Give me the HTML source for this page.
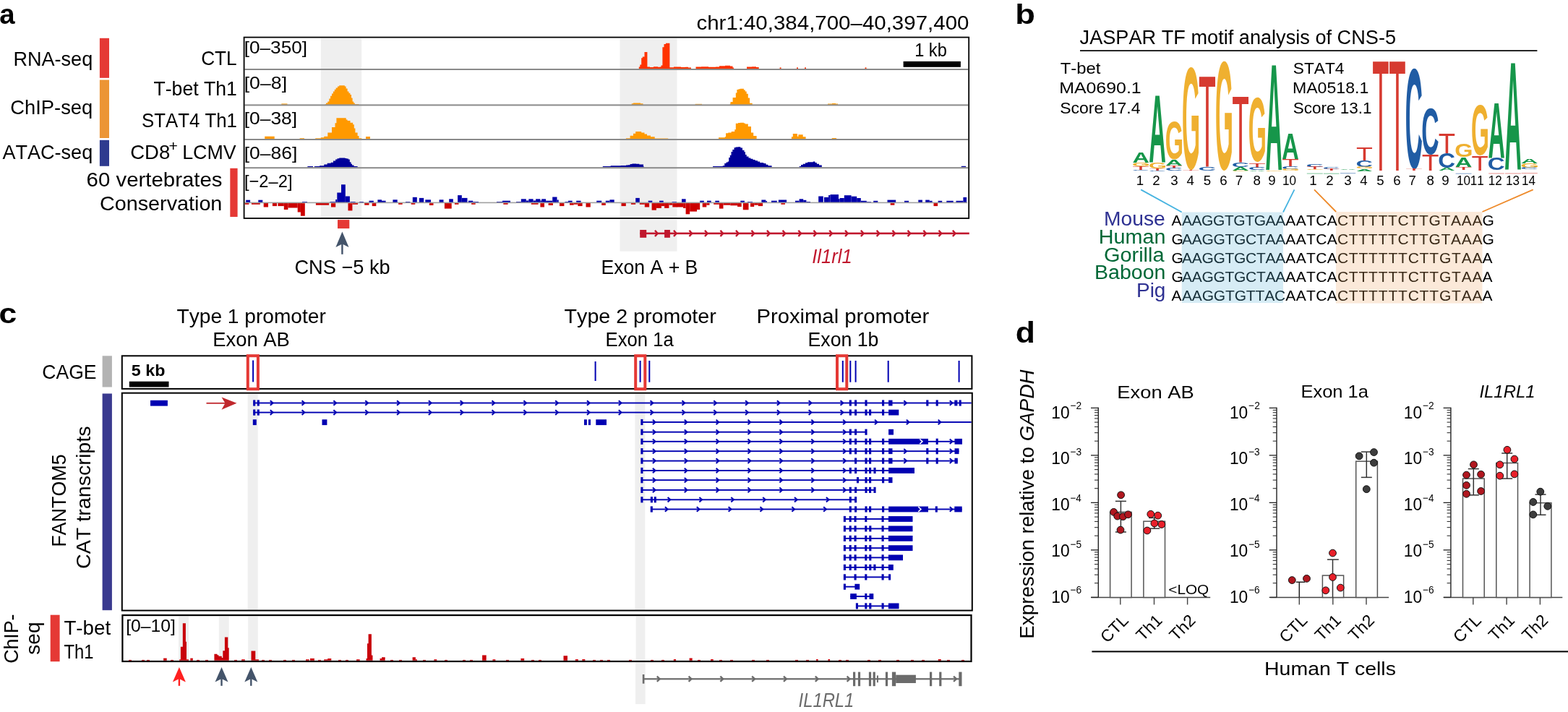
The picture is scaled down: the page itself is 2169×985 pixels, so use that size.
<!DOCTYPE html>
<html><head><meta charset="utf-8"><title>Figure</title>
<style>
html,body{margin:0;padding:0;background:#fff;}
body{width:2169px;height:985px;overflow:hidden;}
svg{display:block;}
svg{font-family:"Liberation Sans",sans-serif;}
svg text{font-kerning:none;}
</style></head><body>
<svg width="2169" height="985" viewBox="0 0 2169 985">
<rect width="2169" height="985" fill="#fff"/>
<rect x="443.90" y="53.50" width="56.30" height="247.50" fill="#efefef"/>
<rect x="857.50" y="53.50" width="79.00" height="247.50" fill="#efefef"/>
<rect x="857.50" y="304.00" width="79.00" height="43.70" fill="#efefef"/>
<polygon points="883.80,95.20 883.80,92.40 885.30,92.40 885.30,89.60 887.20,89.60 887.20,80.20 888.80,80.20 888.80,78.50 891.50,78.50 891.50,72.10 895.40,72.10 895.40,92.60 899.00,92.60 899.00,93.00 904.00,93.00 904.00,92.30 910.00,92.30 910.00,92.80 913.00,92.80 913.00,92.40 914.50,92.40 914.50,90.50 916.40,90.50 916.40,65.30 918.50,65.30 918.50,60.90 921.00,60.90 921.00,59.70 926.40,59.70 926.40,93.20 932.00,93.20 932.00,92.40 942.00,92.40 942.00,93.00 948.00,93.00 948.00,92.70 952.00,92.70 952.00,93.50 956.00,93.50 956.00,95.20" fill="#ff3300"/>
<polygon points="962.50,95.20 962.50,92.60 970.00,92.60 970.00,92.20 980.00,92.20 980.00,92.80 990.00,92.80 990.00,92.40 995.00,92.40 995.00,91.20 1003.00,91.20 1003.00,90.80 1010.00,90.80 1010.00,91.60 1013.50,91.60 1013.50,93.50 1015.00,93.50 1015.00,95.20" fill="#ff3300"/>
<polygon points="1033.00,95.20 1033.00,92.60 1040.00,92.60 1040.00,92.20 1046.00,92.20 1046.00,92.90 1049.70,92.90 1049.70,95.20" fill="#ff3300"/>
<rect x="1078.60" y="93.40" width="2.00" height="1.80" fill="#ff3300"/>
<rect x="1102.00" y="93.40" width="2.00" height="1.80" fill="#ff3300"/>
<rect x="1113.00" y="93.40" width="2.00" height="1.80" fill="#ff3300"/>
<rect x="1196.50" y="93.40" width="2.00" height="1.80" fill="#ff3300"/>
<polygon points="389.30,144.70 389.30,143.40 397.50,143.40 397.50,144.70" fill="#ff9900"/>
<polygon points="449.50,144.70 449.50,144.00 451.00,144.00 451.00,142.50 453.30,142.50 453.30,140.40 455.30,140.40 455.30,136.50 457.10,136.50 457.10,132.80 459.00,132.80 459.00,129.50 460.90,129.50 460.90,126.50 462.80,126.50 462.80,123.80 464.70,123.80 464.70,121.40 467.00,121.40 467.00,119.40 469.20,119.40 469.20,118.20 476.80,118.20 476.80,119.50 478.60,119.50 478.60,122.50 480.60,122.50 480.60,126.50 482.50,126.50 482.50,128.70 484.40,128.70 484.40,130.90 486.00,130.90 486.00,135.50 487.60,135.50 487.60,140.40 489.20,140.40 489.20,142.50 490.80,142.50 490.80,144.00 496.50,144.00 496.50,144.70" fill="#ff9900"/>
<polygon points="873.80,144.70 873.80,143.20 876.00,143.20 876.00,142.60 886.00,142.60 886.00,143.20 889.50,143.20 889.50,144.70" fill="#ff9900"/>
<polygon points="961.60,144.70 961.60,143.80 971.00,143.80 971.00,144.70" fill="#ff9900"/>
<polygon points="1009.80,144.70 1009.80,143.60 1010.50,143.60 1010.50,141.10 1013.60,141.10 1013.60,135.10 1017.80,135.10 1017.80,128.40 1019.40,128.40 1019.40,124.00 1021.50,124.00 1021.50,123.20 1023.80,123.20 1023.80,122.70 1028.90,122.70 1028.90,124.50 1030.80,124.50 1030.80,126.50 1032.70,126.50 1032.70,129.70 1034.80,129.70 1034.80,135.40 1037.10,135.40 1037.10,142.70 1040.70,142.70 1040.70,144.70" fill="#ff9900"/>
<polygon points="1145.00,144.70 1145.00,143.60 1151.00,143.60 1151.00,143.00 1156.00,143.00 1156.00,143.60 1159.00,143.60 1159.00,144.70" fill="#ff9900"/>
<polygon points="366.20,192.40 366.20,188.70 379.70,188.70 379.70,192.40" fill="#ff9900"/>
<polygon points="414.60,192.40 414.60,191.20 421.00,191.20 421.00,192.40" fill="#ff9900"/>
<polygon points="436.20,192.40 436.20,191.20 443.80,191.20 443.80,190.20 448.30,190.20 448.30,188.70 453.30,188.70 453.30,183.60 459.00,183.60 459.00,176.00 463.50,176.00 463.50,170.30 465.40,170.30 465.40,163.30 478.70,163.30 478.70,165.50 480.60,165.50 480.60,167.10 484.50,167.10 484.50,169.80 488.20,169.80 488.20,172.20 489.80,172.20 489.80,177.50 491.40,177.50 491.40,183.60 494.60,183.60 494.60,188.00 496.50,188.00 496.50,191.20 500.30,191.20 500.30,192.40" fill="#ff9900"/>
<polygon points="506.00,192.40 506.00,189.00 512.00,189.00 512.00,192.40" fill="#ff9900"/>
<polygon points="865.90,192.40 865.90,191.20 871.60,191.20 871.60,187.80 876.00,187.80 876.00,184.80 879.20,184.80 879.20,182.10 887.20,182.10 887.20,183.50 891.50,183.50 891.50,185.50 895.00,185.50 895.00,187.50 900.00,187.50 900.00,189.20 905.70,189.20 905.70,191.50 912.80,191.50 912.80,191.40 924.20,191.40 924.20,192.40" fill="#ff9900"/>
<polygon points="994.00,192.40 994.00,190.20 1002.80,190.20 1002.80,189.30 1004.10,189.30 1004.10,184.30 1007.30,184.30 1007.30,183.40 1011.70,183.40 1011.70,182.10 1016.20,182.10 1016.20,179.20 1017.80,179.20 1017.80,170.70 1021.00,170.70 1021.00,170.00 1023.80,170.00 1023.80,169.70 1028.90,169.70 1028.90,170.50 1030.80,170.50 1030.80,171.60 1034.80,171.60 1034.80,175.00 1039.00,175.00 1039.00,183.60 1042.20,183.60 1042.20,188.10 1046.60,188.10 1046.60,192.40" fill="#ff9900"/>
<polygon points="1094.90,192.40 1094.90,189.30 1096.80,189.30 1096.80,185.10 1102.90,185.10 1102.90,188.70 1104.40,188.70 1104.40,186.20 1110.70,186.20 1110.70,189.30 1114.60,189.30 1114.60,192.40" fill="#ff9900"/>
<polygon points="1150.70,192.40 1150.70,191.00 1157.00,191.00 1157.00,192.40" fill="#ff9900"/>
<polygon points="425.40,231.20 425.40,229.90 433.00,229.90 433.00,231.20 434.90,231.20 434.90,229.90 442.00,229.90 442.00,229.30 448.30,229.30 448.30,227.40 452.70,227.40 452.70,225.70 457.80,225.70 457.80,224.80 461.00,224.80 461.00,222.50 464.10,222.50 464.10,220.40 466.50,220.40 466.50,219.20 469.20,219.20 469.20,218.50 477.40,218.50 477.40,219.00 479.50,219.00 479.50,219.50 481.90,219.50 481.90,220.40 483.80,220.40 483.80,224.20 485.50,224.20 485.50,226.80 487.00,226.80 487.00,228.60 489.50,228.60 489.50,229.90 494.60,229.90 494.60,231.20" fill="#000099"/>
<polygon points="833.80,231.20 833.80,229.90 844.60,229.90 844.60,229.20 858.80,229.20 858.80,229.00 866.00,229.00 866.00,228.60 868.70,228.60 868.70,228.20 871.60,228.20 871.60,227.00 874.40,227.00 874.40,226.50 880.00,226.50 880.00,226.80 884.30,226.80 884.30,227.60 890.00,227.60 890.00,230.40 891.00,230.40 891.00,231.20" fill="#000099"/>
<polygon points="986.10,231.20 986.10,230.00 999.70,230.00 999.70,229.30 1002.20,229.30 1002.20,226.10 1004.50,226.10 1004.50,224.50 1006.70,224.50 1006.70,223.60 1008.20,223.60 1008.20,218.00 1009.80,218.00 1009.80,214.70 1011.50,214.70 1011.50,210.00 1013.30,210.00 1013.30,207.10 1015.50,207.10 1015.50,204.20 1017.50,204.20 1017.50,203.50 1020.60,203.50 1020.60,203.30 1024.40,203.30 1024.40,204.50 1027.00,204.50 1027.00,207.70 1029.50,207.70 1029.50,210.30 1031.00,210.30 1031.00,214.00 1032.70,214.00 1032.70,216.60 1035.50,216.60 1035.50,218.50 1038.40,218.50 1038.40,219.80 1041.50,219.80 1041.50,221.00 1044.70,221.00 1044.70,222.30 1048.00,222.30 1048.00,223.60 1051.10,223.60 1051.10,224.90 1056.20,224.90 1056.20,226.10 1059.50,226.10 1059.50,227.80 1062.50,227.80 1062.50,229.30 1067.60,229.30 1067.60,231.20" fill="#000099"/>
<polygon points="1105.70,231.20 1105.70,230.00 1108.00,230.00 1108.00,228.00 1110.70,228.00 1110.70,226.80 1114.00,226.80 1114.00,225.30 1117.10,225.30 1117.10,224.20 1124.70,224.20 1124.70,223.60 1127.50,223.60 1127.50,225.00 1129.80,225.00 1129.80,226.80 1133.00,226.80 1133.00,228.50 1136.80,228.50 1136.80,231.20" fill="#000099"/>
<polygon points="1329.80,231.20 1329.80,229.80 1336.10,229.80 1336.10,231.20" fill="#000099"/>
<rect x="340.20" y="276.70" width="5.90" height="3.50" fill="#0000aa"/>
<rect x="357.30" y="276.70" width="6.00" height="3.50" fill="#0000aa"/>
<rect x="418.00" y="279.00" width="7.00" height="1.20" fill="#0000aa"/>
<rect x="456.50" y="279.00" width="7.70" height="1.20" fill="#0000aa"/>
<rect x="464.20" y="276.00" width="2.10" height="4.20" fill="#0000aa"/>
<rect x="466.30" y="266.50" width="5.70" height="13.70" fill="#0000aa"/>
<rect x="472.00" y="255.30" width="5.80" height="24.90" fill="#0000aa"/>
<rect x="477.80" y="271.50" width="6.10" height="8.70" fill="#0000aa"/>
<rect x="484.60" y="279.00" width="7.00" height="1.20" fill="#0000aa"/>
<rect x="497.20" y="279.00" width="5.60" height="1.20" fill="#0000aa"/>
<rect x="510.50" y="277.70" width="6.30" height="2.50" fill="#0000aa"/>
<rect x="522.40" y="276.30" width="5.60" height="3.90" fill="#0000aa"/>
<rect x="528.00" y="277.70" width="5.60" height="2.50" fill="#0000aa"/>
<rect x="543.40" y="276.30" width="6.30" height="3.90" fill="#0000aa"/>
<rect x="561.00" y="279.00" width="6.30" height="1.20" fill="#0000aa"/>
<rect x="570.80" y="272.80" width="6.00" height="7.40" fill="#0000aa"/>
<rect x="579.90" y="273.90" width="6.30" height="6.30" fill="#0000aa"/>
<rect x="588.30" y="276.30" width="7.70" height="3.90" fill="#0000aa"/>
<rect x="607.60" y="276.30" width="5.90" height="3.90" fill="#0000aa"/>
<rect x="621.20" y="275.30" width="5.60" height="4.90" fill="#0000aa"/>
<rect x="633.10" y="270.10" width="5.70" height="10.10" fill="#0000aa"/>
<rect x="638.80" y="273.90" width="7.70" height="6.30" fill="#0000aa"/>
<rect x="647.90" y="277.70" width="6.30" height="2.50" fill="#0000aa"/>
<rect x="654.20" y="279.00" width="7.80" height="1.20" fill="#0000aa"/>
<rect x="687.00" y="279.00" width="8.00" height="1.20" fill="#0000aa"/>
<rect x="694.90" y="277.70" width="11.10" height="2.50" fill="#0000aa"/>
<rect x="714.00" y="279.00" width="6.80" height="1.20" fill="#0000aa"/>
<rect x="720.80" y="275.30" width="7.00" height="4.90" fill="#0000aa"/>
<rect x="727.80" y="277.50" width="3.50" height="2.70" fill="#0000aa"/>
<rect x="731.30" y="275.30" width="6.30" height="4.90" fill="#0000aa"/>
<rect x="737.60" y="277.50" width="3.50" height="2.70" fill="#0000aa"/>
<rect x="741.10" y="275.30" width="6.30" height="4.90" fill="#0000aa"/>
<rect x="747.40" y="277.50" width="1.80" height="2.70" fill="#0000aa"/>
<rect x="749.20" y="275.30" width="5.90" height="4.90" fill="#0000aa"/>
<rect x="755.10" y="277.70" width="9.10" height="2.50" fill="#0000aa"/>
<rect x="764.20" y="272.50" width="6.30" height="7.70" fill="#0000aa"/>
<rect x="770.50" y="276.50" width="2.20" height="3.70" fill="#0000aa"/>
<rect x="781.50" y="279.00" width="4.50" height="1.20" fill="#0000aa"/>
<rect x="786.00" y="277.70" width="5.60" height="2.50" fill="#0000aa"/>
<rect x="797.20" y="277.70" width="6.30" height="2.50" fill="#0000aa"/>
<rect x="825.20" y="277.70" width="7.00" height="2.50" fill="#0000aa"/>
<rect x="837.80" y="277.70" width="5.60" height="2.50" fill="#0000aa"/>
<rect x="843.40" y="276.30" width="6.30" height="3.90" fill="#0000aa"/>
<rect x="879.20" y="273.90" width="5.60" height="6.30" fill="#0000aa"/>
<rect x="896.70" y="277.70" width="5.60" height="2.50" fill="#0000aa"/>
<rect x="912.10" y="277.70" width="5.60" height="2.50" fill="#0000aa"/>
<rect x="929.60" y="279.00" width="6.30" height="1.20" fill="#0000aa"/>
<rect x="943.00" y="275.30" width="5.60" height="4.90" fill="#0000aa"/>
<rect x="968.20" y="277.70" width="5.60" height="2.50" fill="#0000aa"/>
<rect x="978.00" y="277.70" width="5.70" height="2.50" fill="#0000aa"/>
<rect x="989.30" y="277.70" width="5.60" height="2.50" fill="#0000aa"/>
<rect x="1024.30" y="277.70" width="5.60" height="2.50" fill="#0000aa"/>
<rect x="1034.00" y="279.00" width="7.00" height="1.20" fill="#0000aa"/>
<rect x="1053.40" y="276.50" width="5.90" height="3.70" fill="#0000aa"/>
<rect x="1059.30" y="278.00" width="1.70" height="2.20" fill="#0000aa"/>
<rect x="1067.00" y="277.70" width="7.80" height="2.50" fill="#0000aa"/>
<rect x="1076.90" y="276.50" width="11.20" height="3.70" fill="#0000aa"/>
<rect x="1100.00" y="277.70" width="5.60" height="2.50" fill="#0000aa"/>
<rect x="1105.60" y="275.30" width="5.60" height="4.90" fill="#0000aa"/>
<rect x="1111.20" y="276.80" width="4.20" height="3.40" fill="#0000aa"/>
<rect x="1115.40" y="279.00" width="5.60" height="1.20" fill="#0000aa"/>
<rect x="1132.20" y="271.50" width="6.60" height="8.70" fill="#0000aa"/>
<rect x="1140.00" y="272.90" width="6.10" height="7.30" fill="#0000aa"/>
<rect x="1146.10" y="270.00" width="2.40" height="10.20" fill="#0000aa"/>
<rect x="1148.50" y="269.10" width="11.50" height="11.10" fill="#0000aa"/>
<rect x="1160.00" y="275.20" width="1.60" height="5.00" fill="#0000aa"/>
<rect x="1161.60" y="274.00" width="6.20" height="6.20" fill="#0000aa"/>
<rect x="1167.80" y="270.20" width="9.80" height="10.00" fill="#0000aa"/>
<rect x="1177.60" y="271.70" width="7.60" height="8.50" fill="#0000aa"/>
<rect x="1185.20" y="274.00" width="5.60" height="6.20" fill="#0000aa"/>
<rect x="1190.80" y="277.80" width="8.00" height="2.40" fill="#0000aa"/>
<rect x="1198.80" y="279.20" width="6.20" height="1.00" fill="#0000aa"/>
<rect x="1208.20" y="277.80" width="6.10" height="2.40" fill="#0000aa"/>
<rect x="1227.50" y="276.60" width="11.70" height="3.60" fill="#0000aa"/>
<rect x="1251.00" y="277.80" width="6.10" height="2.40" fill="#0000aa"/>
<rect x="1270.30" y="276.60" width="5.60" height="3.60" fill="#0000aa"/>
<rect x="1280.20" y="276.60" width="5.60" height="3.60" fill="#0000aa"/>
<rect x="1285.80" y="277.80" width="3.80" height="2.40" fill="#0000aa"/>
<rect x="1297.60" y="277.80" width="5.60" height="2.40" fill="#0000aa"/>
<rect x="1309.30" y="277.80" width="9.40" height="2.40" fill="#0000aa"/>
<rect x="1322.50" y="277.80" width="9.90" height="2.40" fill="#0000aa"/>
<rect x="1332.40" y="272.90" width="4.70" height="7.30" fill="#0000aa"/>
<rect x="338.80" y="280.20" width="5.60" height="2.60" fill="#cc0000"/>
<rect x="347.90" y="280.20" width="11.90" height="2.60" fill="#cc0000"/>
<rect x="364.70" y="280.20" width="6.30" height="6.30" fill="#cc0000"/>
<rect x="376.90" y="280.20" width="6.10" height="4.90" fill="#cc0000"/>
<rect x="384.40" y="280.20" width="8.40" height="4.90" fill="#cc0000"/>
<rect x="392.80" y="280.20" width="5.60" height="9.80" fill="#cc0000"/>
<rect x="398.40" y="280.20" width="13.30" height="7.30" fill="#cc0000"/>
<rect x="411.70" y="280.20" width="4.20" height="13.30" fill="#cc0000"/>
<rect x="415.90" y="280.20" width="5.90" height="18.50" fill="#cc0000"/>
<rect x="436.90" y="280.20" width="18.20" height="3.50" fill="#cc0000"/>
<rect x="458.00" y="280.20" width="6.20" height="6.30" fill="#cc0000"/>
<rect x="481.50" y="280.20" width="5.90" height="11.20" fill="#cc0000"/>
<rect x="487.40" y="280.20" width="7.60" height="2.60" fill="#cc0000"/>
<rect x="504.20" y="280.20" width="6.30" height="3.50" fill="#cc0000"/>
<rect x="514.70" y="280.20" width="5.60" height="4.90" fill="#cc0000"/>
<rect x="551.10" y="280.20" width="5.60" height="2.60" fill="#cc0000"/>
<rect x="568.70" y="280.20" width="5.60" height="2.60" fill="#cc0000"/>
<rect x="593.90" y="280.20" width="5.60" height="3.80" fill="#cc0000"/>
<rect x="614.90" y="280.20" width="9.80" height="8.40" fill="#cc0000"/>
<rect x="628.90" y="280.20" width="5.60" height="2.60" fill="#cc0000"/>
<rect x="652.10" y="280.20" width="5.60" height="2.60" fill="#cc0000"/>
<rect x="696.30" y="280.20" width="6.30" height="2.60" fill="#cc0000"/>
<rect x="734.80" y="280.20" width="9.80" height="2.60" fill="#cc0000"/>
<rect x="747.40" y="280.20" width="5.60" height="6.30" fill="#cc0000"/>
<rect x="758.60" y="280.20" width="6.30" height="3.80" fill="#cc0000"/>
<rect x="774.00" y="280.20" width="6.40" height="4.90" fill="#cc0000"/>
<rect x="788.00" y="280.20" width="5.70" height="3.50" fill="#cc0000"/>
<rect x="793.70" y="280.20" width="5.60" height="2.60" fill="#cc0000"/>
<rect x="799.30" y="280.20" width="6.30" height="4.90" fill="#cc0000"/>
<rect x="810.50" y="280.20" width="6.30" height="6.30" fill="#cc0000"/>
<rect x="832.20" y="280.20" width="5.60" height="3.80" fill="#cc0000"/>
<rect x="859.50" y="280.20" width="6.30" height="4.90" fill="#cc0000"/>
<rect x="872.90" y="280.20" width="6.30" height="2.60" fill="#cc0000"/>
<rect x="884.80" y="280.20" width="7.00" height="2.60" fill="#cc0000"/>
<rect x="891.80" y="280.20" width="6.30" height="6.30" fill="#cc0000"/>
<rect x="901.60" y="280.20" width="6.30" height="10.50" fill="#cc0000"/>
<rect x="907.90" y="280.20" width="7.00" height="7.70" fill="#cc0000"/>
<rect x="914.90" y="280.20" width="4.20" height="4.90" fill="#cc0000"/>
<rect x="919.10" y="280.20" width="6.30" height="7.70" fill="#cc0000"/>
<rect x="925.40" y="280.20" width="4.90" height="3.50" fill="#cc0000"/>
<rect x="930.30" y="280.20" width="6.30" height="6.30" fill="#cc0000"/>
<rect x="936.00" y="280.20" width="9.10" height="6.30" fill="#cc0000"/>
<rect x="945.10" y="280.20" width="3.50" height="7.80" fill="#cc0000"/>
<rect x="948.60" y="280.20" width="5.60" height="16.10" fill="#cc0000"/>
<rect x="954.20" y="280.20" width="9.80" height="12.40" fill="#cc0000"/>
<rect x="964.00" y="280.20" width="4.20" height="9.80" fill="#cc0000"/>
<rect x="971.70" y="280.20" width="5.60" height="6.30" fill="#cc0000"/>
<rect x="977.30" y="280.20" width="4.20" height="3.50" fill="#cc0000"/>
<rect x="987.20" y="280.20" width="7.70" height="2.60" fill="#cc0000"/>
<rect x="994.90" y="280.20" width="5.60" height="8.40" fill="#cc0000"/>
<rect x="1000.50" y="280.20" width="9.80" height="3.50" fill="#cc0000"/>
<rect x="1010.30" y="280.20" width="9.80" height="4.10" fill="#cc0000"/>
<rect x="1020.10" y="280.20" width="5.60" height="5.80" fill="#cc0000"/>
<rect x="1027.80" y="280.20" width="7.70" height="10.10" fill="#cc0000"/>
<rect x="1038.00" y="280.20" width="5.20" height="5.80" fill="#cc0000"/>
<rect x="1043.20" y="280.20" width="5.60" height="3.50" fill="#cc0000"/>
<rect x="1048.80" y="280.20" width="6.30" height="4.90" fill="#cc0000"/>
<rect x="1080.40" y="280.20" width="5.60" height="2.60" fill="#cc0000"/>
<rect x="1231.70" y="280.20" width="5.70" height="3.50" fill="#cc0000"/>
<rect x="1291.50" y="280.20" width="5.60" height="4.90" fill="#cc0000"/>
<rect x="338.50" y="279.60" width="999.50" height="1.60" fill="#a0a0a0"/>
<rect x="338.50" y="95.00" width="1000.70" height="2.00" fill="#8a8a8a"/>
<rect x="338.50" y="144.40" width="1000.70" height="2.00" fill="#8a8a8a"/>
<rect x="338.50" y="192.00" width="1000.70" height="2.00" fill="#8a8a8a"/>
<rect x="338.50" y="231.20" width="1000.70" height="2.00" fill="#8a8a8a"/>
<rect x="337.6" y="51.6" width="1002.6" height="250.4" fill="none" stroke="#000" stroke-width="1.8"/>
<text x="337.73" y="73.80" font-size="24.5" textLength="87.33" lengthAdjust="spacingAndGlyphs">[0–350]</text>
<text x="337.70" y="123.40" font-size="24.5" textLength="59.41" lengthAdjust="spacingAndGlyphs">[0–8]</text>
<text x="337.72" y="171.70" font-size="24.5" textLength="73.36" lengthAdjust="spacingAndGlyphs">[0–38]</text>
<text x="337.71" y="219.90" font-size="24.5" textLength="73.68" lengthAdjust="spacingAndGlyphs">[0–86]</text>
<text x="337.91" y="259.20" font-size="24.5" textLength="66.58" lengthAdjust="spacingAndGlyphs">[−2–2]</text>
<rect x="1249.60" y="84.90" width="79.30" height="7.90" fill="#000"/>
<text x="1265.20" y="77.70" font-size="26" textLength="44.59" lengthAdjust="spacingAndGlyphs">1 kb</text>
<text x="963.45" y="40.50" font-size="27" textLength="377.00" lengthAdjust="spacingAndGlyphs">chr1:40,384,700–40,397,400</text>
<text x="-0.63" y="33.30" font-size="39" textLength="21.38" lengthAdjust="spacingAndGlyphs" font-weight="bold">a</text>
<text x="18.38" y="91.00" font-size="28" textLength="109.85" lengthAdjust="spacingAndGlyphs">RNA-seq</text>
<text x="14.21" y="158.40" font-size="28" textLength="114.04" lengthAdjust="spacingAndGlyphs">ChIP-seq</text>
<text x="3.45" y="220.00" font-size="28" textLength="124.78" lengthAdjust="spacingAndGlyphs">ATAC-seq</text>
<rect x="137.90" y="52.80" width="13.10" height="55.00" fill="#e53935"/>
<rect x="137.90" y="110.50" width="13.10" height="80.50" fill="#ec9535"/>
<rect x="137.90" y="193.80" width="13.10" height="36.00" fill="#2e3a8f"/>
<text x="278.17" y="90.00" font-size="28" textLength="49.50" lengthAdjust="spacingAndGlyphs">CTL</text>
<text x="212.50" y="131.80" font-size="28" textLength="115.40" lengthAdjust="spacingAndGlyphs">T-bet Th1</text>
<text x="196.03" y="176.30" font-size="28" textLength="131.83" lengthAdjust="spacingAndGlyphs">STAT4 Th1</text>
<text x="180.20" y="220.00" font-size="28" textLength="55.10" lengthAdjust="spacingAndGlyphs">CD8</text>
<text x="233.46" y="208.70" font-size="19.8" textLength="12.38" lengthAdjust="spacingAndGlyphs">+</text>
<text x="252.20" y="220.00" font-size="28" textLength="74.41" lengthAdjust="spacingAndGlyphs">LCMV</text>
<text x="119.61" y="258.20" font-size="28" textLength="187.85" lengthAdjust="spacingAndGlyphs">60 vertebrates</text>
<text x="137.94" y="291.40" font-size="28" textLength="169.43" lengthAdjust="spacingAndGlyphs">Conservation</text>
<rect x="318.30" y="232.80" width="10.30" height="67.20" fill="#e53935"/>
<rect x="467.00" y="304.10" width="16.30" height="12.00" fill="#e53935"/>
<polygon points="473.40,320.40 482.50,342.00 473.40,337.50 464.40,342.00" fill="#44546a"/>
<rect x="472.20" y="336.00" width="2.40" height="15.80" fill="#44546a"/>
<text x="407.42" y="378.80" font-size="28" textLength="132.32" lengthAdjust="spacingAndGlyphs">CNS −5 kb</text>
<text x="831.42" y="378.70" font-size="28" textLength="133.99" lengthAdjust="spacingAndGlyphs">Exon A + B</text>
<rect x="885.20" y="321.60" width="455.60" height="2.60" fill="#c0172d"/>
<rect x="885.20" y="318.00" width="9.00" height="10.80" fill="#c0172d"/>
<rect x="919.10" y="318.00" width="7.80" height="10.80" fill="#c0172d"/>
<polyline points="906.0,318.8 909.6,322.9 906.0,327.0" fill="none" stroke="#c0172d" stroke-width="2.4"/>
<polyline points="932.0,318.8 935.6,322.9 932.0,327.0" fill="none" stroke="#c0172d" stroke-width="2.4"/>
<polyline points="953.5,318.8 957.1,322.9 953.5,327.0" fill="none" stroke="#c0172d" stroke-width="2.4"/>
<polyline points="975.0,318.8 978.6,322.9 975.0,327.0" fill="none" stroke="#c0172d" stroke-width="2.4"/>
<polyline points="996.5,318.8 1000.1,322.9 996.5,327.0" fill="none" stroke="#c0172d" stroke-width="2.4"/>
<polyline points="1018.0,318.8 1021.6,322.9 1018.0,327.0" fill="none" stroke="#c0172d" stroke-width="2.4"/>
<polyline points="1039.5,318.8 1043.1,322.9 1039.5,327.0" fill="none" stroke="#c0172d" stroke-width="2.4"/>
<polyline points="1061.0,318.8 1064.6,322.9 1061.0,327.0" fill="none" stroke="#c0172d" stroke-width="2.4"/>
<polyline points="1082.6,318.8 1086.2,322.9 1082.6,327.0" fill="none" stroke="#c0172d" stroke-width="2.4"/>
<polyline points="1104.4,318.8 1108.0,322.9 1104.4,327.0" fill="none" stroke="#c0172d" stroke-width="2.4"/>
<polyline points="1125.5,318.8 1129.1,322.9 1125.5,327.0" fill="none" stroke="#c0172d" stroke-width="2.4"/>
<polyline points="1147.3,318.8 1150.9,322.9 1147.3,327.0" fill="none" stroke="#c0172d" stroke-width="2.4"/>
<polyline points="1169.1,318.8 1172.7,322.9 1169.1,327.0" fill="none" stroke="#c0172d" stroke-width="2.4"/>
<polyline points="1190.9,318.8 1194.5,322.9 1190.9,327.0" fill="none" stroke="#c0172d" stroke-width="2.4"/>
<polyline points="1212.7,318.8 1216.3,322.9 1212.7,327.0" fill="none" stroke="#c0172d" stroke-width="2.4"/>
<polyline points="1234.5,318.8 1238.1,322.9 1234.5,327.0" fill="none" stroke="#c0172d" stroke-width="2.4"/>
<polyline points="1255.6,318.8 1259.2,322.9 1255.6,327.0" fill="none" stroke="#c0172d" stroke-width="2.4"/>
<polyline points="1277.4,318.8 1281.0,322.9 1277.4,327.0" fill="none" stroke="#c0172d" stroke-width="2.4"/>
<polyline points="1298.6,318.8 1302.2,322.9 1298.6,327.0" fill="none" stroke="#c0172d" stroke-width="2.4"/>
<polyline points="1317.9,318.8 1321.5,322.9 1317.9,327.0" fill="none" stroke="#c0172d" stroke-width="2.4"/>
<text x="1123.19" y="363.70" font-size="28" textLength="55.47" lengthAdjust="spacingAndGlyphs" font-style="italic" fill="#c0172d">Il1rl1</text>
<text x="1404.22" y="33.00" font-size="38" textLength="27.64" lengthAdjust="spacingAndGlyphs" font-weight="bold">b</text>
<text x="1493.58" y="61.00" font-size="27" textLength="437.46" lengthAdjust="spacingAndGlyphs">JASPAR TF motif analysis of CNS-5</text>
<rect x="1494.00" y="69.30" width="632.40" height="1.70" fill="#000"/>
<text x="1466.66" y="101.60" font-size="22.5" textLength="55.71" lengthAdjust="spacingAndGlyphs">T-bet</text>
<text x="1465.16" y="129.30" font-size="22.5" textLength="113.56" lengthAdjust="spacingAndGlyphs">MA0690.1</text>
<text x="1466.15" y="157.00" font-size="22.5" textLength="111.32" lengthAdjust="spacingAndGlyphs">Score 17.4</text>
<text x="1788.77" y="101.60" font-size="22.5" textLength="70.70" lengthAdjust="spacingAndGlyphs">STAT4</text>
<text x="1787.90" y="129.30" font-size="22.5" textLength="105.43" lengthAdjust="spacingAndGlyphs">MA0518.1</text>
<text x="1788.78" y="157.00" font-size="22.5" textLength="108.82" lengthAdjust="spacingAndGlyphs">Score 13.1</text>
<text transform="matrix(0.3249,0,0,0.1933,1566.39,224.70)" font-size="100" font-weight="bold" fill="#16964a">A</text>
<text transform="matrix(0.3231,0,0,0.0749,1565.87,230.13)" font-size="100" font-weight="bold" fill="#efb030">G</text>
<text transform="matrix(0.3855,0,0,0.0669,1566.33,234.80)" font-size="100" fill="#d63a30">T</text>
<text transform="matrix(0.3334,0,0,0.0240,1565.83,236.48)" font-size="100" font-weight="bold" fill="#205ca4">C</text>
<text transform="matrix(0.3264,0,0,1.3445,1589.29,224.70)" font-size="100" font-weight="bold" fill="#16964a">A</text>
<text transform="matrix(0.3245,0,0,0.1059,1588.77,232.50)" font-size="100" font-weight="bold" fill="#efb030">G</text>
<text transform="matrix(0.3873,0,0,0.0422,1589.23,235.70)" font-size="100" fill="#d63a30">T</text>
<text transform="matrix(0.3350,0,0,0.0155,1588.73,236.78)" font-size="100" font-weight="bold" fill="#205ca4">C</text>
<text transform="matrix(0.3245,0,0,0.7472,1611.77,220.17)" font-size="100" font-weight="bold" fill="#efb030">G</text>
<text transform="matrix(0.3264,0,0,0.1032,1612.29,228.70)" font-size="100" font-weight="bold" fill="#16964a">A</text>
<text transform="matrix(0.3873,0,0,0.0596,1612.23,233.20)" font-size="100" fill="#d63a30">T</text>
<text transform="matrix(0.3350,0,0,0.0466,1611.73,236.45)" font-size="100" font-weight="bold" fill="#205ca4">C</text>
<text transform="matrix(0.3216,0,0,2.0014,1634.98,232.85)" font-size="100" font-weight="bold" fill="#efb030">G</text>
<text transform="matrix(0.3838,0,0,0.0189,1635.44,236.20)" font-size="100" fill="#d63a30">T</text>
<text transform="matrix(0.3926,0,0,1.7951,1658.12,230.20)" font-size="100" fill="#d63a30">T</text>
<text transform="matrix(0.3395,0,0,0.0763,1657.61,235.93)" font-size="100" font-weight="bold" fill="#205ca4">C</text>
<text transform="matrix(0.3186,0,0,2.1271,1680.99,234.12)" font-size="100" font-weight="bold" fill="#efb030">G</text>
<text transform="matrix(0.3873,0,0,1.3256,1704.13,224.70)" font-size="100" fill="#d63a30">T</text>
<text transform="matrix(0.3350,0,0,0.0932,1703.63,231.41)" font-size="100" font-weight="bold" fill="#205ca4">C</text>
<text transform="matrix(0.3264,0,0,0.0654,1704.19,236.00)" font-size="100" font-weight="bold" fill="#16964a">A</text>
<text transform="matrix(0.3245,0,0,0.0127,1703.67,236.89)" font-size="100" font-weight="bold" fill="#efb030">G</text>
<text transform="matrix(0.3231,0,0,1.2613,1726.67,223.47)" font-size="100" font-weight="bold" fill="#efb030">G</text>
<text transform="matrix(0.3855,0,0,0.0988,1727.13,231.70)" font-size="100" fill="#d63a30">T</text>
<text transform="matrix(0.3334,0,0,0.0466,1726.63,235.35)" font-size="100" font-weight="bold" fill="#205ca4">C</text>
<text transform="matrix(0.3249,0,0,0.0203,1727.19,236.80)" font-size="100" font-weight="bold" fill="#16964a">A</text>
<text transform="matrix(0.3249,0,0,2.1047,1750.39,235.10)" font-size="100" font-weight="bold" fill="#16964a">A</text>
<text transform="matrix(0.3231,0,0,0.0198,1749.87,236.58)" font-size="100" font-weight="bold" fill="#efb030">G</text>
<text transform="matrix(0.3249,0,0,0.5087,1773.29,220.20)" font-size="100" font-weight="bold" fill="#16964a">A</text>
<text transform="matrix(0.3855,0,0,0.1410,1773.23,230.20)" font-size="100" fill="#d63a30">T</text>
<text transform="matrix(0.3334,0,0,0.0508,1772.73,233.95)" font-size="100" font-weight="bold" fill="#205ca4">C</text>
<text transform="matrix(0.3231,0,0,0.0353,1772.77,236.47)" font-size="100" font-weight="bold" fill="#efb030">G</text>
<text transform="matrix(0.3365,0,0,0.0508,1806.42,230.65)" font-size="100" font-weight="bold" fill="#205ca4">C</text>
<text transform="matrix(0.3891,0,0,0.0465,1806.93,233.90)" font-size="100" fill="#d63a30">T</text>
<text transform="matrix(0.3260,0,0,0.0169,1806.46,235.08)" font-size="100" font-weight="bold" fill="#efb030">G</text>
<text transform="matrix(0.3288,0,0,0.0268,1829.65,234.17)" font-size="100" font-weight="bold" fill="#205ca4">C</text>
<text transform="matrix(0.3802,0,0,0.0262,1830.15,236.00)" font-size="100" fill="#d63a30">T</text>
<text transform="matrix(0.3160,0,0,0.0174,1853.21,235.10)" font-size="100" font-weight="bold" fill="#16964a">A</text>
<text transform="matrix(0.3749,0,0,0.2573,1875.96,222.40)" font-size="100" fill="#d63a30">T</text>
<text transform="matrix(0.3243,0,0,0.1215,1875.47,230.88)" font-size="100" font-weight="bold" fill="#205ca4">C</text>
<text transform="matrix(0.3142,0,0,0.0282,1875.51,233.37)" font-size="100" font-weight="bold" fill="#efb030">G</text>
<text transform="matrix(0.3160,0,0,0.0334,1876.01,236.50)" font-size="100" font-weight="bold" fill="#16964a">A</text>
<text transform="matrix(0.3820,0,0,2.1861,1898.34,236.00)" font-size="100" fill="#d63a30">T</text>
<text transform="matrix(0.3838,0,0,2.1861,1921.14,236.00)" font-size="100" fill="#d63a30">T</text>
<text transform="matrix(0.3334,0,0,1.9760,1943.63,231.97)" font-size="100" font-weight="bold" fill="#205ca4">C</text>
<text transform="matrix(0.3855,0,0,0.0291,1944.13,236.00)" font-size="100" fill="#d63a30">T</text>
<text transform="matrix(0.3365,0,0,0.9167,1966.32,212.60)" font-size="100" font-weight="bold" fill="#205ca4">C</text>
<text transform="matrix(0.3891,0,0,0.3183,1966.83,236.00)" font-size="100" fill="#d63a30">T</text>
<text transform="matrix(0.3820,0,0,0.3808,1989.74,212.20)" font-size="100" fill="#d63a30">T</text>
<text transform="matrix(0.3304,0,0,0.2881,1989.24,232.32)" font-size="100" font-weight="bold" fill="#205ca4">C</text>
<text transform="matrix(0.3220,0,0,0.0494,1989.80,236.00)" font-size="100" font-weight="bold" fill="#16964a">A</text>
<text transform="matrix(0.3245,0,0,0.2655,2012.27,217.44)" font-size="100" font-weight="bold" fill="#efb030">G</text>
<text transform="matrix(0.3264,0,0,0.1919,2012.79,231.40)" font-size="100" font-weight="bold" fill="#16964a">A</text>
<text transform="matrix(0.3873,0,0,0.0523,2012.73,235.00)" font-size="100" fill="#d63a30">T</text>
<text transform="matrix(0.3201,0,0,0.9845,2035.09,214.44)" font-size="100" font-weight="bold" fill="#efb030">G</text>
<text transform="matrix(0.3820,0,0,0.2951,2035.54,236.00)" font-size="100" fill="#d63a30">T</text>
<text transform="matrix(0.3220,0,0,1.0945,2058.40,218.20)" font-size="100" font-weight="bold" fill="#16964a">A</text>
<text transform="matrix(0.3304,0,0,0.2387,2057.84,235.17)" font-size="100" font-weight="bold" fill="#205ca4">C</text>
<text transform="matrix(0.3249,0,0,2.1279,2081.19,235.40)" font-size="100" font-weight="bold" fill="#16964a">A</text>
<text transform="matrix(0.3309,0,0,0.0988,2103.78,225.60)" font-size="100" font-weight="bold" fill="#16964a">A</text>
<text transform="matrix(0.3290,0,0,0.0876,2103.25,231.71)" font-size="100" font-weight="bold" fill="#efb030">G</text>
<text transform="matrix(0.3395,0,0,0.0381,2103.21,234.46)" font-size="100" font-weight="bold" fill="#205ca4">C</text>
<rect x="1807.80" y="239.50" width="22.00" height="1.20" fill="#16964a" opacity="0.45"/>
<rect x="1831.00" y="239.60" width="21.50" height="1.20" fill="#16964a" opacity="0.45"/>
<rect x="1854.00" y="239.00" width="21.20" height="1.20" fill="#205ca4" opacity="0.45"/>
<rect x="2013.60" y="239.60" width="21.90" height="1.20" fill="#205ca4" opacity="0.45"/>
<rect x="2059.20" y="239.40" width="21.60" height="1.20" fill="#d63a30" opacity="0.45"/>
<rect x="2082.00" y="239.40" width="21.80" height="1.20" fill="#d63a30" opacity="0.45"/>
<rect x="2104.60" y="239.00" width="22.20" height="1.20" fill="#d63a30" opacity="0.45"/>
<text x="1576.90" y="255.60" font-size="17.5" text-anchor="middle" textLength="10.4" lengthAdjust="spacingAndGlyphs">1</text>
<text x="1599.40" y="255.60" font-size="17.5" text-anchor="middle" textLength="10.4" lengthAdjust="spacingAndGlyphs">2</text>
<text x="1624.40" y="255.60" font-size="17.5" text-anchor="middle" textLength="10.4" lengthAdjust="spacingAndGlyphs">3</text>
<text x="1646.80" y="255.60" font-size="17.5" text-anchor="middle" textLength="10.4" lengthAdjust="spacingAndGlyphs">4</text>
<text x="1669.90" y="255.60" font-size="17.5" text-anchor="middle" textLength="10.4" lengthAdjust="spacingAndGlyphs">5</text>
<text x="1692.40" y="255.60" font-size="17.5" text-anchor="middle" textLength="10.4" lengthAdjust="spacingAndGlyphs">6</text>
<text x="1714.00" y="255.60" font-size="17.5" text-anchor="middle" textLength="10.4" lengthAdjust="spacingAndGlyphs">7</text>
<text x="1738.80" y="255.60" font-size="17.5" text-anchor="middle" textLength="10.4" lengthAdjust="spacingAndGlyphs">8</text>
<text x="1759.40" y="255.60" font-size="17.5" text-anchor="middle" textLength="10.4" lengthAdjust="spacingAndGlyphs">9</text>
<text x="1783.50" y="255.60" font-size="17.5" text-anchor="middle" textLength="19.0" lengthAdjust="spacingAndGlyphs">10</text>
<text x="1816.50" y="255.60" font-size="17.5" text-anchor="middle" textLength="10.4" lengthAdjust="spacingAndGlyphs">1</text>
<text x="1839.40" y="255.60" font-size="17.5" text-anchor="middle" textLength="10.4" lengthAdjust="spacingAndGlyphs">2</text>
<text x="1864.40" y="255.60" font-size="17.5" text-anchor="middle" textLength="10.4" lengthAdjust="spacingAndGlyphs">3</text>
<text x="1886.40" y="255.60" font-size="17.5" text-anchor="middle" textLength="10.4" lengthAdjust="spacingAndGlyphs">4</text>
<text x="1909.50" y="255.60" font-size="17.5" text-anchor="middle" textLength="10.4" lengthAdjust="spacingAndGlyphs">5</text>
<text x="1932.40" y="255.60" font-size="17.5" text-anchor="middle" textLength="10.4" lengthAdjust="spacingAndGlyphs">6</text>
<text x="1953.60" y="255.60" font-size="17.5" text-anchor="middle" textLength="10.4" lengthAdjust="spacingAndGlyphs">7</text>
<text x="1978.80" y="255.60" font-size="17.5" text-anchor="middle" textLength="10.4" lengthAdjust="spacingAndGlyphs">8</text>
<text x="1999.50" y="255.60" font-size="17.5" text-anchor="middle" textLength="10.4" lengthAdjust="spacingAndGlyphs">9</text>
<text x="2024.50" y="255.60" font-size="17.5" text-anchor="middle" textLength="19.0" lengthAdjust="spacingAndGlyphs">10</text>
<text x="2043.20" y="255.60" font-size="17.5" text-anchor="middle" textLength="19.0" lengthAdjust="spacingAndGlyphs">11</text>
<text x="2068.20" y="255.60" font-size="17.5" text-anchor="middle" textLength="19.0" lengthAdjust="spacingAndGlyphs">12</text>
<text x="2092.40" y="255.60" font-size="17.5" text-anchor="middle" textLength="19.0" lengthAdjust="spacingAndGlyphs">13</text>
<text x="2114.60" y="255.60" font-size="17.5" text-anchor="middle" textLength="19.0" lengthAdjust="spacingAndGlyphs">14</text>
<rect x="1634.70" y="293.50" width="140.30" height="125.60" fill="#d6ecf5"/>
<rect x="1848.00" y="293.00" width="202.50" height="126.60" fill="#fbe9d9"/>
<line x1="1578.20" y1="262.40" x2="1634.70" y2="293.50" stroke="#45b3e0" stroke-width="1.8"/>
<line x1="1790.50" y1="262.40" x2="1775.00" y2="293.50" stroke="#45b3e0" stroke-width="1.8"/>
<line x1="1818.00" y1="262.40" x2="1848.20" y2="293.00" stroke="#ee8a2a" stroke-width="1.8"/>
<line x1="2120.70" y1="262.40" x2="2050.50" y2="293.00" stroke="#ee8a2a" stroke-width="1.8"/>
<text x="1526.98" y="312.20" font-size="27" textLength="84.88" lengthAdjust="spacingAndGlyphs" fill="#2e3192">Mouse</text>
<text x="1620.60" y="312.20" font-size="21" textLength="14.33" lengthAdjust="spacing" fill="#000">A</text>
<text x="1634.93" y="312.20" font-size="21" textLength="143.30" lengthAdjust="spacing" fill="#17303a">AAGGTGTGAA</text>
<text x="1778.23" y="312.20" font-size="21" textLength="71.65" lengthAdjust="spacing" fill="#000">AATCA</text>
<text x="1849.88" y="312.20" font-size="21" textLength="200.62" lengthAdjust="spacing" fill="#3a2a18">CTTTTTCTTGTAAA</text>
<text x="2050.50" y="312.20" font-size="21" textLength="14.33" lengthAdjust="spacing" fill="#000">G</text>
<text x="1519.84" y="337.00" font-size="27" textLength="92.62" lengthAdjust="spacingAndGlyphs" fill="#006837">Human</text>
<text x="1620.60" y="338.00" font-size="21" textLength="14.33" lengthAdjust="spacing" fill="#000">G</text>
<text x="1634.93" y="338.00" font-size="21" textLength="143.30" lengthAdjust="spacing" fill="#17303a">AAGGTGCTAA</text>
<text x="1778.23" y="338.00" font-size="21" textLength="71.65" lengthAdjust="spacing" fill="#000">AATCA</text>
<text x="1849.88" y="338.00" font-size="21" textLength="200.62" lengthAdjust="spacing" fill="#3a2a18">CTTTTTCTTGTAAA</text>
<text x="2050.50" y="338.00" font-size="21" textLength="14.33" lengthAdjust="spacing" fill="#000">G</text>
<text x="1526.94" y="361.60" font-size="27" textLength="83.66" lengthAdjust="spacingAndGlyphs" fill="#006837">Gorilla</text>
<text x="1620.60" y="363.80" font-size="21" textLength="14.33" lengthAdjust="spacing" fill="#000">G</text>
<text x="1634.93" y="363.80" font-size="21" textLength="143.30" lengthAdjust="spacing" fill="#17303a">AAGGTGCTAA</text>
<text x="1778.23" y="363.80" font-size="21" textLength="71.65" lengthAdjust="spacing" fill="#000">AATCA</text>
<text x="1849.88" y="363.80" font-size="21" textLength="200.62" lengthAdjust="spacing" fill="#3a2a18">CTTTTTTCTTGTAA</text>
<text x="2050.50" y="363.80" font-size="21" textLength="14.33" lengthAdjust="spacing" fill="#000">A</text>
<text x="1513.96" y="386.40" font-size="27" textLength="98.50" lengthAdjust="spacingAndGlyphs" fill="#006837">Baboon</text>
<text x="1620.60" y="389.60" font-size="21" textLength="14.33" lengthAdjust="spacing" fill="#000">G</text>
<text x="1634.93" y="389.60" font-size="21" textLength="143.30" lengthAdjust="spacing" fill="#17303a">AAGGTGCTAA</text>
<text x="1778.23" y="389.60" font-size="21" textLength="71.65" lengthAdjust="spacing" fill="#000">AATCA</text>
<text x="1849.88" y="389.60" font-size="21" textLength="200.62" lengthAdjust="spacing" fill="#3a2a18">CTTTTTTCTTGTAA</text>
<text x="2050.50" y="389.60" font-size="21" textLength="14.33" lengthAdjust="spacing" fill="#000">A</text>
<text x="1572.01" y="410.80" font-size="27" textLength="40.39" lengthAdjust="spacingAndGlyphs" fill="#2e3192">Pig</text>
<text x="1620.60" y="415.60" font-size="21" textLength="14.33" lengthAdjust="spacing" fill="#000">A</text>
<text x="1634.93" y="415.60" font-size="21" textLength="143.30" lengthAdjust="spacing" fill="#17303a">AAGGTGTTAC</text>
<text x="1778.23" y="415.60" font-size="21" textLength="71.65" lengthAdjust="spacing" fill="#000">AATCA</text>
<text x="1849.88" y="415.60" font-size="21" textLength="200.62" lengthAdjust="spacing" fill="#3a2a18">CTTTTTTCTTGTAA</text>
<text x="2050.50" y="415.60" font-size="21" textLength="14.33" lengthAdjust="spacing" fill="#000">A</text>
<text x="-1.44" y="447.20" font-size="39" textLength="24.74" lengthAdjust="spacingAndGlyphs" font-weight="bold">c</text>
<text x="244.57" y="447.20" font-size="28" textLength="206.20" lengthAdjust="spacingAndGlyphs">Type 1 promoter</text>
<text x="294.25" y="479.30" font-size="28" textLength="106.59" lengthAdjust="spacingAndGlyphs">Exon AB</text>
<text x="780.56" y="446.90" font-size="28" textLength="210.22" lengthAdjust="spacingAndGlyphs">Type 2 promoter</text>
<text x="837.59" y="479.20" font-size="28" textLength="94.21" lengthAdjust="spacingAndGlyphs">Exon 1a</text>
<text x="1046.40" y="446.90" font-size="28" textLength="238.88" lengthAdjust="spacingAndGlyphs">Proximal promoter</text>
<text x="1117.51" y="479.20" font-size="28" textLength="97.91" lengthAdjust="spacingAndGlyphs">Exon 1b</text>
<text x="58.35" y="524.00" font-size="28" textLength="75.08" lengthAdjust="spacingAndGlyphs">CAGE</text>
<rect x="141.60" y="492.30" width="13.30" height="43.20" fill="#b3b3b3"/>
<rect x="141.60" y="544.50" width="13.30" height="299.70" fill="#3a3a8f"/>
<g transform="translate(91.20,754.60) rotate(-90)"><text x="-2.21" y="0.00" font-size="28" textLength="128.43" lengthAdjust="spacingAndGlyphs">FANTOM5</text></g>
<g transform="translate(124.60,785.60) rotate(-90)"><text x="-1.46" y="0.00" font-size="28" textLength="197.59" lengthAdjust="spacingAndGlyphs">CAT transcripts</text></g>
<rect x="342.60" y="545.00" width="14.10" height="298.50" fill="#efefef"/>
<rect x="878.40" y="545.00" width="13.90" height="298.50" fill="#efefef"/>
<rect x="247.00" y="852.80" width="14.00" height="60.80" fill="#efefef"/>
<rect x="302.80" y="852.80" width="13.90" height="60.80" fill="#efefef"/>
<rect x="343.20" y="852.80" width="13.60" height="60.80" fill="#efefef"/>
<rect x="879.60" y="852.80" width="12.80" height="60.80" fill="#efefef"/>
<rect x="879.00" y="916.50" width="13.70" height="57.60" fill="#efefef"/>
<rect x="168.8" y="492.3" width="1175.6" height="45.6" fill="none" stroke="#000" stroke-width="2"/>
<text x="181.88" y="520.00" font-size="22" textLength="46.57" lengthAdjust="spacingAndGlyphs" font-weight="bold">5 kb</text>
<rect x="178.80" y="527.70" width="54.70" height="7.80" fill="#000"/>
<rect x="349.10" y="498.50" width="2.00" height="29.90" fill="#0000b2"/>
<rect x="822.60" y="500.00" width="2.00" height="27.00" fill="#0000b2"/>
<rect x="884.60" y="499.00" width="2.00" height="29.70" fill="#0000b2"/>
<rect x="897.30" y="499.00" width="2.00" height="29.70" fill="#0000b2"/>
<rect x="1164.80" y="499.00" width="2.00" height="29.70" fill="#0000b2"/>
<rect x="1175.30" y="499.00" width="2.00" height="29.70" fill="#0000b2"/>
<rect x="1182.60" y="499.00" width="2.00" height="29.70" fill="#0000b2"/>
<rect x="1227.70" y="499.00" width="2.00" height="29.70" fill="#0000b2"/>
<rect x="1325.60" y="499.00" width="2.00" height="29.70" fill="#0000b2"/>
<rect x="342.8" y="492.2" width="14.1" height="46.0" fill="none" stroke="#e53935" stroke-width="4"/>
<rect x="879.2" y="492.2" width="13.1" height="46.0" fill="none" stroke="#e53935" stroke-width="4"/>
<rect x="1158.0" y="492.2" width="13.3" height="46.0" fill="none" stroke="#e53935" stroke-width="4"/>
<rect x="168.8" y="543.7" width="1176.0" height="300.9" fill="none" stroke="#000" stroke-width="2"/>
<rect x="285.50" y="556.90" width="26.50" height="1.80" fill="#c0282d"/>
<polygon points="306.50,549.40 327.50,557.80 306.50,566.70 311.50,557.80" fill="#c0282d"/>
<rect x="208.00" y="553.80" width="23.90" height="7.80" fill="#0000b2"/>
<rect x="350.60" y="556.55" width="993.10" height="1.90" fill="#0000b2"/>
<rect x="350.15" y="553.40" width="3.10" height="8.20" fill="#0000b2"/>
<rect x="355.75" y="553.40" width="3.10" height="8.20" fill="#0000b2"/>
<rect x="1174.75" y="553.40" width="3.10" height="8.20" fill="#0000b2"/>
<rect x="1182.05" y="553.40" width="3.10" height="8.20" fill="#0000b2"/>
<rect x="1196.45" y="553.40" width="3.10" height="8.20" fill="#0000b2"/>
<rect x="1220.05" y="553.40" width="3.10" height="8.20" fill="#0000b2"/>
<rect x="1281.25" y="553.40" width="3.10" height="8.20" fill="#0000b2"/>
<rect x="1294.65" y="553.40" width="3.10" height="8.20" fill="#0000b2"/>
<rect x="1326.65" y="553.40" width="3.10" height="8.20" fill="#0000b2"/>
<rect x="1229.10" y="553.60" width="5.40" height="7.80" fill="#0000b2"/>
<rect x="1320.30" y="553.60" width="4.10" height="7.80" fill="#0000b2"/>
<polyline points="373.8,554.2 377.4,557.5 373.8,560.8" fill="none" stroke="#0000b2" stroke-width="2.1" stroke-linejoin="miter"/>
<polyline points="417.6,554.2 421.2,557.5 417.6,560.8" fill="none" stroke="#0000b2" stroke-width="2.1" stroke-linejoin="miter"/>
<polyline points="461.4,554.2 465.0,557.5 461.4,560.8" fill="none" stroke="#0000b2" stroke-width="2.1" stroke-linejoin="miter"/>
<polyline points="505.3,554.2 508.9,557.5 505.3,560.8" fill="none" stroke="#0000b2" stroke-width="2.1" stroke-linejoin="miter"/>
<polyline points="549.1,554.2 552.7,557.5 549.1,560.8" fill="none" stroke="#0000b2" stroke-width="2.1" stroke-linejoin="miter"/>
<polyline points="592.9,554.2 596.5,557.5 592.9,560.8" fill="none" stroke="#0000b2" stroke-width="2.1" stroke-linejoin="miter"/>
<polyline points="636.7,554.2 640.3,557.5 636.7,560.8" fill="none" stroke="#0000b2" stroke-width="2.1" stroke-linejoin="miter"/>
<polyline points="680.5,554.2 684.1,557.5 680.5,560.8" fill="none" stroke="#0000b2" stroke-width="2.1" stroke-linejoin="miter"/>
<polyline points="724.4,554.2 728.0,557.5 724.4,560.8" fill="none" stroke="#0000b2" stroke-width="2.1" stroke-linejoin="miter"/>
<polyline points="768.2,554.2 771.8,557.5 768.2,560.8" fill="none" stroke="#0000b2" stroke-width="2.1" stroke-linejoin="miter"/>
<polyline points="812.0,554.2 815.6,557.5 812.0,560.8" fill="none" stroke="#0000b2" stroke-width="2.1" stroke-linejoin="miter"/>
<polyline points="855.8,554.2 859.4,557.5 855.8,560.8" fill="none" stroke="#0000b2" stroke-width="2.1" stroke-linejoin="miter"/>
<polyline points="899.6,554.2 903.2,557.5 899.6,560.8" fill="none" stroke="#0000b2" stroke-width="2.1" stroke-linejoin="miter"/>
<polyline points="943.5,554.2 947.1,557.5 943.5,560.8" fill="none" stroke="#0000b2" stroke-width="2.1" stroke-linejoin="miter"/>
<polyline points="987.3,554.2 990.9,557.5 987.3,560.8" fill="none" stroke="#0000b2" stroke-width="2.1" stroke-linejoin="miter"/>
<polyline points="1031.1,554.2 1034.7,557.5 1031.1,560.8" fill="none" stroke="#0000b2" stroke-width="2.1" stroke-linejoin="miter"/>
<polyline points="1074.9,554.2 1078.5,557.5 1074.9,560.8" fill="none" stroke="#0000b2" stroke-width="2.1" stroke-linejoin="miter"/>
<polyline points="1118.7,554.2 1122.3,557.5 1118.7,560.8" fill="none" stroke="#0000b2" stroke-width="2.1" stroke-linejoin="miter"/>
<polyline points="1162.6,554.2 1166.2,557.5 1162.6,560.8" fill="none" stroke="#0000b2" stroke-width="2.1" stroke-linejoin="miter"/>
<polyline points="1250.3,554.2 1253.9,557.5 1250.3,560.8" fill="none" stroke="#0000b2" stroke-width="2.1" stroke-linejoin="miter"/>
<polyline points="1313.8,554.2 1317.4,557.5 1313.8,560.8" fill="none" stroke="#0000b2" stroke-width="2.1" stroke-linejoin="miter"/>
<rect x="350.60" y="569.65" width="871.00" height="1.90" fill="#0000b2"/>
<rect x="350.15" y="566.50" width="3.10" height="8.20" fill="#0000b2"/>
<rect x="355.75" y="566.50" width="3.10" height="8.20" fill="#0000b2"/>
<rect x="1174.75" y="566.50" width="3.10" height="8.20" fill="#0000b2"/>
<rect x="1182.05" y="566.50" width="3.10" height="8.20" fill="#0000b2"/>
<rect x="1196.45" y="566.50" width="3.10" height="8.20" fill="#0000b2"/>
<rect x="1202.05" y="566.50" width="3.10" height="8.20" fill="#0000b2"/>
<rect x="1220.05" y="566.50" width="3.10" height="8.20" fill="#0000b2"/>
<rect x="1229.10" y="566.70" width="14.20" height="7.80" fill="#0000b2"/>
<polyline points="373.8,567.3 377.4,570.6 373.8,573.9" fill="none" stroke="#0000b2" stroke-width="2.1" stroke-linejoin="miter"/>
<polyline points="417.6,567.3 421.2,570.6 417.6,573.9" fill="none" stroke="#0000b2" stroke-width="2.1" stroke-linejoin="miter"/>
<polyline points="461.4,567.3 465.0,570.6 461.4,573.9" fill="none" stroke="#0000b2" stroke-width="2.1" stroke-linejoin="miter"/>
<polyline points="505.3,567.3 508.9,570.6 505.3,573.9" fill="none" stroke="#0000b2" stroke-width="2.1" stroke-linejoin="miter"/>
<polyline points="549.1,567.3 552.7,570.6 549.1,573.9" fill="none" stroke="#0000b2" stroke-width="2.1" stroke-linejoin="miter"/>
<polyline points="592.9,567.3 596.5,570.6 592.9,573.9" fill="none" stroke="#0000b2" stroke-width="2.1" stroke-linejoin="miter"/>
<polyline points="636.7,567.3 640.3,570.6 636.7,573.9" fill="none" stroke="#0000b2" stroke-width="2.1" stroke-linejoin="miter"/>
<polyline points="680.5,567.3 684.1,570.6 680.5,573.9" fill="none" stroke="#0000b2" stroke-width="2.1" stroke-linejoin="miter"/>
<polyline points="724.4,567.3 728.0,570.6 724.4,573.9" fill="none" stroke="#0000b2" stroke-width="2.1" stroke-linejoin="miter"/>
<polyline points="768.2,567.3 771.8,570.6 768.2,573.9" fill="none" stroke="#0000b2" stroke-width="2.1" stroke-linejoin="miter"/>
<polyline points="812.0,567.3 815.6,570.6 812.0,573.9" fill="none" stroke="#0000b2" stroke-width="2.1" stroke-linejoin="miter"/>
<polyline points="855.8,567.3 859.4,570.6 855.8,573.9" fill="none" stroke="#0000b2" stroke-width="2.1" stroke-linejoin="miter"/>
<polyline points="899.6,567.3 903.2,570.6 899.6,573.9" fill="none" stroke="#0000b2" stroke-width="2.1" stroke-linejoin="miter"/>
<polyline points="943.5,567.3 947.1,570.6 943.5,573.9" fill="none" stroke="#0000b2" stroke-width="2.1" stroke-linejoin="miter"/>
<polyline points="987.3,567.3 990.9,570.6 987.3,573.9" fill="none" stroke="#0000b2" stroke-width="2.1" stroke-linejoin="miter"/>
<polyline points="1031.1,567.3 1034.7,570.6 1031.1,573.9" fill="none" stroke="#0000b2" stroke-width="2.1" stroke-linejoin="miter"/>
<polyline points="1074.9,567.3 1078.5,570.6 1074.9,573.9" fill="none" stroke="#0000b2" stroke-width="2.1" stroke-linejoin="miter"/>
<polyline points="1118.7,567.3 1122.3,570.6 1118.7,573.9" fill="none" stroke="#0000b2" stroke-width="2.1" stroke-linejoin="miter"/>
<polyline points="1162.6,567.3 1166.2,570.6 1162.6,573.9" fill="none" stroke="#0000b2" stroke-width="2.1" stroke-linejoin="miter"/>
<rect x="1221.60" y="569.80" width="7.50" height="1.60" fill="#0000b2"/>
<rect x="886.80" y="583.05" width="456.90" height="1.90" fill="#0000b2"/>
<rect x="886.35" y="579.90" width="3.10" height="8.20" fill="#0000b2"/>
<polyline points="902.9,580.7 906.5,584.0 902.9,587.3" fill="none" stroke="#0000b2" stroke-width="2.1" stroke-linejoin="miter"/>
<polyline points="946.8,580.7 950.4,584.0 946.8,587.3" fill="none" stroke="#0000b2" stroke-width="2.1" stroke-linejoin="miter"/>
<polyline points="990.6,580.7 994.2,584.0 990.6,587.3" fill="none" stroke="#0000b2" stroke-width="2.1" stroke-linejoin="miter"/>
<polyline points="1034.5,580.7 1038.1,584.0 1034.5,587.3" fill="none" stroke="#0000b2" stroke-width="2.1" stroke-linejoin="miter"/>
<polyline points="1078.4,580.7 1082.0,584.0 1078.4,587.3" fill="none" stroke="#0000b2" stroke-width="2.1" stroke-linejoin="miter"/>
<polyline points="1122.3,580.7 1125.9,584.0 1122.3,587.3" fill="none" stroke="#0000b2" stroke-width="2.1" stroke-linejoin="miter"/>
<polyline points="1166.1,580.7 1169.7,584.0 1166.1,587.3" fill="none" stroke="#0000b2" stroke-width="2.1" stroke-linejoin="miter"/>
<polyline points="1210.0,580.7 1213.6,584.0 1210.0,587.3" fill="none" stroke="#0000b2" stroke-width="2.1" stroke-linejoin="miter"/>
<polyline points="1253.9,580.7 1257.5,584.0 1253.9,587.3" fill="none" stroke="#0000b2" stroke-width="2.1" stroke-linejoin="miter"/>
<polyline points="1297.7,580.7 1301.3,584.0 1297.7,587.3" fill="none" stroke="#0000b2" stroke-width="2.1" stroke-linejoin="miter"/>
<rect x="349.80" y="580.30" width="5.00" height="7.80" fill="#0000b2"/>
<rect x="445.50" y="580.30" width="6.90" height="7.80" fill="#0000b2"/>
<rect x="808.00" y="580.30" width="3.90" height="7.80" fill="#0000b2"/>
<rect x="813.90" y="580.30" width="3.10" height="7.80" fill="#0000b2"/>
<rect x="824.30" y="580.30" width="14.70" height="7.80" fill="#0000b2"/>
<rect x="886.80" y="596.75" width="311.20" height="1.90" fill="#0000b2"/>
<rect x="886.35" y="593.60" width="3.10" height="8.20" fill="#0000b2"/>
<rect x="1174.75" y="593.60" width="3.10" height="8.20" fill="#0000b2"/>
<rect x="1182.05" y="593.60" width="3.10" height="8.20" fill="#0000b2"/>
<rect x="1196.45" y="593.60" width="3.10" height="8.20" fill="#0000b2"/>
<polyline points="902.9,594.4 906.5,597.7 902.9,601.0" fill="none" stroke="#0000b2" stroke-width="2.1" stroke-linejoin="miter"/>
<polyline points="946.8,594.4 950.4,597.7 946.8,601.0" fill="none" stroke="#0000b2" stroke-width="2.1" stroke-linejoin="miter"/>
<polyline points="990.6,594.4 994.2,597.7 990.6,601.0" fill="none" stroke="#0000b2" stroke-width="2.1" stroke-linejoin="miter"/>
<polyline points="1034.5,594.4 1038.1,597.7 1034.5,601.0" fill="none" stroke="#0000b2" stroke-width="2.1" stroke-linejoin="miter"/>
<polyline points="1078.4,594.4 1082.0,597.7 1078.4,601.0" fill="none" stroke="#0000b2" stroke-width="2.1" stroke-linejoin="miter"/>
<polyline points="1122.3,594.4 1125.9,597.7 1122.3,601.0" fill="none" stroke="#0000b2" stroke-width="2.1" stroke-linejoin="miter"/>
<polyline points="1166.1,594.4 1169.7,597.7 1166.1,601.0" fill="none" stroke="#0000b2" stroke-width="2.1" stroke-linejoin="miter"/>
<rect x="1229.10" y="593.80" width="6.90" height="7.80" fill="#0000b2"/>
<rect x="886.80" y="609.85" width="444.20" height="1.90" fill="#0000b2"/>
<rect x="886.35" y="606.70" width="3.10" height="8.20" fill="#0000b2"/>
<rect x="1174.75" y="606.70" width="3.10" height="8.20" fill="#0000b2"/>
<rect x="1182.05" y="606.70" width="3.10" height="8.20" fill="#0000b2"/>
<rect x="1196.45" y="606.70" width="3.10" height="8.20" fill="#0000b2"/>
<rect x="1202.05" y="606.70" width="3.10" height="8.20" fill="#0000b2"/>
<rect x="1220.05" y="606.70" width="3.10" height="8.20" fill="#0000b2"/>
<rect x="1294.65" y="606.70" width="3.10" height="8.20" fill="#0000b2"/>
<rect x="1229.10" y="606.90" width="54.90" height="7.80" fill="#0000b2"/>
<rect x="1320.50" y="606.90" width="10.50" height="7.80" fill="#0000b2"/>
<polyline points="902.9,607.5 906.5,610.8 902.9,614.1" fill="none" stroke="#0000b2" stroke-width="2.1" stroke-linejoin="miter"/>
<polyline points="946.8,607.5 950.4,610.8 946.8,614.1" fill="none" stroke="#0000b2" stroke-width="2.1" stroke-linejoin="miter"/>
<polyline points="990.6,607.5 994.2,610.8 990.6,614.1" fill="none" stroke="#0000b2" stroke-width="2.1" stroke-linejoin="miter"/>
<polyline points="1034.5,607.5 1038.1,610.8 1034.5,614.1" fill="none" stroke="#0000b2" stroke-width="2.1" stroke-linejoin="miter"/>
<polyline points="1078.4,607.5 1082.0,610.8 1078.4,614.1" fill="none" stroke="#0000b2" stroke-width="2.1" stroke-linejoin="miter"/>
<polyline points="1122.3,607.5 1125.9,610.8 1122.3,614.1" fill="none" stroke="#0000b2" stroke-width="2.1" stroke-linejoin="miter"/>
<polyline points="1166.1,607.5 1169.7,610.8 1166.1,614.1" fill="none" stroke="#0000b2" stroke-width="2.1" stroke-linejoin="miter"/>
<polyline points="1313.8,607.5 1317.4,610.8 1313.8,614.1" fill="none" stroke="#0000b2" stroke-width="2.1" stroke-linejoin="miter"/>
<polyline points="1272.3,607.5 1275.9,610.8 1272.3,614.1" fill="none" stroke="#ffffff" stroke-width="1.6" stroke-linejoin="miter"/>
<rect x="886.80" y="623.25" width="439.70" height="1.90" fill="#0000b2"/>
<rect x="886.35" y="620.10" width="3.10" height="8.20" fill="#0000b2"/>
<rect x="1174.75" y="620.10" width="3.10" height="8.20" fill="#0000b2"/>
<rect x="1182.05" y="620.10" width="3.10" height="8.20" fill="#0000b2"/>
<rect x="1196.45" y="620.10" width="3.10" height="8.20" fill="#0000b2"/>
<rect x="1202.05" y="620.10" width="3.10" height="8.20" fill="#0000b2"/>
<rect x="1220.05" y="620.10" width="3.10" height="8.20" fill="#0000b2"/>
<rect x="1281.25" y="620.10" width="3.10" height="8.20" fill="#0000b2"/>
<rect x="1294.65" y="620.10" width="3.10" height="8.20" fill="#0000b2"/>
<rect x="1229.10" y="620.30" width="5.40" height="7.80" fill="#0000b2"/>
<rect x="1320.50" y="620.30" width="6.00" height="7.80" fill="#0000b2"/>
<polyline points="902.9,620.9 906.5,624.2 902.9,627.5" fill="none" stroke="#0000b2" stroke-width="2.1" stroke-linejoin="miter"/>
<polyline points="946.8,620.9 950.4,624.2 946.8,627.5" fill="none" stroke="#0000b2" stroke-width="2.1" stroke-linejoin="miter"/>
<polyline points="990.6,620.9 994.2,624.2 990.6,627.5" fill="none" stroke="#0000b2" stroke-width="2.1" stroke-linejoin="miter"/>
<polyline points="1034.5,620.9 1038.1,624.2 1034.5,627.5" fill="none" stroke="#0000b2" stroke-width="2.1" stroke-linejoin="miter"/>
<polyline points="1078.4,620.9 1082.0,624.2 1078.4,627.5" fill="none" stroke="#0000b2" stroke-width="2.1" stroke-linejoin="miter"/>
<polyline points="1122.3,620.9 1125.9,624.2 1122.3,627.5" fill="none" stroke="#0000b2" stroke-width="2.1" stroke-linejoin="miter"/>
<polyline points="1166.1,620.9 1169.7,624.2 1166.1,627.5" fill="none" stroke="#0000b2" stroke-width="2.1" stroke-linejoin="miter"/>
<polyline points="1250.3,620.9 1253.9,624.2 1250.3,627.5" fill="none" stroke="#0000b2" stroke-width="2.1" stroke-linejoin="miter"/>
<polyline points="1313.8,620.9 1317.4,624.2 1313.8,627.5" fill="none" stroke="#0000b2" stroke-width="2.1" stroke-linejoin="miter"/>
<rect x="886.80" y="636.65" width="438.00" height="1.90" fill="#0000b2"/>
<rect x="886.35" y="633.50" width="3.10" height="8.20" fill="#0000b2"/>
<rect x="1182.05" y="633.50" width="3.10" height="8.20" fill="#0000b2"/>
<rect x="1196.45" y="633.50" width="3.10" height="8.20" fill="#0000b2"/>
<rect x="1202.05" y="633.50" width="3.10" height="8.20" fill="#0000b2"/>
<rect x="1220.05" y="633.50" width="3.10" height="8.20" fill="#0000b2"/>
<rect x="1281.25" y="633.50" width="3.10" height="8.20" fill="#0000b2"/>
<rect x="1294.65" y="633.50" width="3.10" height="8.20" fill="#0000b2"/>
<rect x="1229.10" y="633.70" width="5.40" height="7.80" fill="#0000b2"/>
<rect x="1320.50" y="633.70" width="4.30" height="7.80" fill="#0000b2"/>
<polyline points="902.9,634.3 906.5,637.6 902.9,640.9" fill="none" stroke="#0000b2" stroke-width="2.1" stroke-linejoin="miter"/>
<polyline points="946.8,634.3 950.4,637.6 946.8,640.9" fill="none" stroke="#0000b2" stroke-width="2.1" stroke-linejoin="miter"/>
<polyline points="990.6,634.3 994.2,637.6 990.6,640.9" fill="none" stroke="#0000b2" stroke-width="2.1" stroke-linejoin="miter"/>
<polyline points="1034.5,634.3 1038.1,637.6 1034.5,640.9" fill="none" stroke="#0000b2" stroke-width="2.1" stroke-linejoin="miter"/>
<polyline points="1078.4,634.3 1082.0,637.6 1078.4,640.9" fill="none" stroke="#0000b2" stroke-width="2.1" stroke-linejoin="miter"/>
<polyline points="1122.3,634.3 1125.9,637.6 1122.3,640.9" fill="none" stroke="#0000b2" stroke-width="2.1" stroke-linejoin="miter"/>
<polyline points="1166.1,634.3 1169.7,637.6 1166.1,640.9" fill="none" stroke="#0000b2" stroke-width="2.1" stroke-linejoin="miter"/>
<polyline points="1250.3,634.3 1253.9,637.6 1250.3,640.9" fill="none" stroke="#0000b2" stroke-width="2.1" stroke-linejoin="miter"/>
<polyline points="1313.8,634.3 1317.4,637.6 1313.8,640.9" fill="none" stroke="#0000b2" stroke-width="2.1" stroke-linejoin="miter"/>
<rect x="886.80" y="650.05" width="342.30" height="1.90" fill="#0000b2"/>
<rect x="886.35" y="646.90" width="3.10" height="8.20" fill="#0000b2"/>
<rect x="1174.75" y="646.90" width="3.10" height="8.20" fill="#0000b2"/>
<rect x="1182.05" y="646.90" width="3.10" height="8.20" fill="#0000b2"/>
<rect x="1196.45" y="646.90" width="3.10" height="8.20" fill="#0000b2"/>
<rect x="1202.05" y="646.90" width="3.10" height="8.20" fill="#0000b2"/>
<rect x="1208.45" y="646.90" width="3.10" height="8.20" fill="#0000b2"/>
<rect x="1220.05" y="646.90" width="3.10" height="8.20" fill="#0000b2"/>
<rect x="1229.10" y="647.10" width="35.90" height="7.80" fill="#0000b2"/>
<polyline points="902.9,647.7 906.5,651.0 902.9,654.3" fill="none" stroke="#0000b2" stroke-width="2.1" stroke-linejoin="miter"/>
<polyline points="946.8,647.7 950.4,651.0 946.8,654.3" fill="none" stroke="#0000b2" stroke-width="2.1" stroke-linejoin="miter"/>
<polyline points="990.6,647.7 994.2,651.0 990.6,654.3" fill="none" stroke="#0000b2" stroke-width="2.1" stroke-linejoin="miter"/>
<polyline points="1034.5,647.7 1038.1,651.0 1034.5,654.3" fill="none" stroke="#0000b2" stroke-width="2.1" stroke-linejoin="miter"/>
<polyline points="1078.4,647.7 1082.0,651.0 1078.4,654.3" fill="none" stroke="#0000b2" stroke-width="2.1" stroke-linejoin="miter"/>
<polyline points="1122.3,647.7 1125.9,651.0 1122.3,654.3" fill="none" stroke="#0000b2" stroke-width="2.1" stroke-linejoin="miter"/>
<polyline points="1166.1,647.7 1169.7,651.0 1166.1,654.3" fill="none" stroke="#0000b2" stroke-width="2.1" stroke-linejoin="miter"/>
<rect x="886.80" y="663.25" width="342.30" height="1.90" fill="#0000b2"/>
<rect x="886.35" y="660.10" width="3.10" height="8.20" fill="#0000b2"/>
<rect x="1184.95" y="660.10" width="3.10" height="8.20" fill="#0000b2"/>
<rect x="1196.45" y="660.10" width="3.10" height="8.20" fill="#0000b2"/>
<rect x="1202.05" y="660.10" width="3.10" height="8.20" fill="#0000b2"/>
<rect x="1220.05" y="660.10" width="3.10" height="8.20" fill="#0000b2"/>
<rect x="1229.10" y="660.30" width="5.40" height="7.80" fill="#0000b2"/>
<polyline points="902.9,660.9 906.5,664.2 902.9,667.5" fill="none" stroke="#0000b2" stroke-width="2.1" stroke-linejoin="miter"/>
<polyline points="946.8,660.9 950.4,664.2 946.8,667.5" fill="none" stroke="#0000b2" stroke-width="2.1" stroke-linejoin="miter"/>
<polyline points="990.6,660.9 994.2,664.2 990.6,667.5" fill="none" stroke="#0000b2" stroke-width="2.1" stroke-linejoin="miter"/>
<polyline points="1034.5,660.9 1038.1,664.2 1034.5,667.5" fill="none" stroke="#0000b2" stroke-width="2.1" stroke-linejoin="miter"/>
<polyline points="1078.4,660.9 1082.0,664.2 1078.4,667.5" fill="none" stroke="#0000b2" stroke-width="2.1" stroke-linejoin="miter"/>
<polyline points="1122.3,660.9 1125.9,664.2 1122.3,667.5" fill="none" stroke="#0000b2" stroke-width="2.1" stroke-linejoin="miter"/>
<polyline points="1166.1,660.9 1169.7,664.2 1166.1,667.5" fill="none" stroke="#0000b2" stroke-width="2.1" stroke-linejoin="miter"/>
<rect x="886.80" y="676.95" width="323.20" height="1.90" fill="#0000b2"/>
<rect x="886.35" y="673.80" width="3.10" height="8.20" fill="#0000b2"/>
<rect x="1174.75" y="673.80" width="3.10" height="8.20" fill="#0000b2"/>
<rect x="1182.05" y="673.80" width="3.10" height="8.20" fill="#0000b2"/>
<rect x="1196.45" y="673.80" width="3.10" height="8.20" fill="#0000b2"/>
<rect x="1202.05" y="673.80" width="3.10" height="8.20" fill="#0000b2"/>
<rect x="1208.45" y="673.80" width="3.10" height="8.20" fill="#0000b2"/>
<polyline points="902.9,674.6 906.5,677.9 902.9,681.2" fill="none" stroke="#0000b2" stroke-width="2.1" stroke-linejoin="miter"/>
<polyline points="946.8,674.6 950.4,677.9 946.8,681.2" fill="none" stroke="#0000b2" stroke-width="2.1" stroke-linejoin="miter"/>
<polyline points="990.6,674.6 994.2,677.9 990.6,681.2" fill="none" stroke="#0000b2" stroke-width="2.1" stroke-linejoin="miter"/>
<polyline points="1034.5,674.6 1038.1,677.9 1034.5,681.2" fill="none" stroke="#0000b2" stroke-width="2.1" stroke-linejoin="miter"/>
<polyline points="1078.4,674.6 1082.0,677.9 1078.4,681.2" fill="none" stroke="#0000b2" stroke-width="2.1" stroke-linejoin="miter"/>
<polyline points="1122.3,674.6 1125.9,677.9 1122.3,681.2" fill="none" stroke="#0000b2" stroke-width="2.1" stroke-linejoin="miter"/>
<polyline points="1166.1,674.6 1169.7,677.9 1166.1,681.2" fill="none" stroke="#0000b2" stroke-width="2.1" stroke-linejoin="miter"/>
<rect x="886.80" y="690.35" width="296.80" height="1.90" fill="#0000b2"/>
<rect x="886.35" y="687.20" width="3.10" height="8.20" fill="#0000b2"/>
<rect x="899.85" y="687.20" width="3.10" height="8.20" fill="#0000b2"/>
<rect x="904.75" y="687.20" width="3.10" height="8.20" fill="#0000b2"/>
<rect x="1174.75" y="687.20" width="3.10" height="8.20" fill="#0000b2"/>
<rect x="1182.05" y="687.20" width="3.10" height="8.20" fill="#0000b2"/>
<polyline points="923.6,688.0 927.2,691.3 923.6,694.6" fill="none" stroke="#0000b2" stroke-width="2.1" stroke-linejoin="miter"/>
<polyline points="967.4,688.0 971.0,691.3 967.4,694.6" fill="none" stroke="#0000b2" stroke-width="2.1" stroke-linejoin="miter"/>
<polyline points="1011.3,688.0 1014.9,691.3 1011.3,694.6" fill="none" stroke="#0000b2" stroke-width="2.1" stroke-linejoin="miter"/>
<polyline points="1055.2,688.0 1058.8,691.3 1055.2,694.6" fill="none" stroke="#0000b2" stroke-width="2.1" stroke-linejoin="miter"/>
<polyline points="1099.0,688.0 1102.6,691.3 1099.0,694.6" fill="none" stroke="#0000b2" stroke-width="2.1" stroke-linejoin="miter"/>
<polyline points="1142.9,688.0 1146.5,691.3 1142.9,694.6" fill="none" stroke="#0000b2" stroke-width="2.1" stroke-linejoin="miter"/>
<rect x="900.20" y="703.55" width="430.50" height="1.90" fill="#0000b2"/>
<rect x="899.75" y="700.40" width="3.10" height="8.20" fill="#0000b2"/>
<rect x="1174.75" y="700.40" width="3.10" height="8.20" fill="#0000b2"/>
<rect x="1182.05" y="700.40" width="3.10" height="8.20" fill="#0000b2"/>
<rect x="1196.45" y="700.40" width="3.10" height="8.20" fill="#0000b2"/>
<rect x="1202.05" y="700.40" width="3.10" height="8.20" fill="#0000b2"/>
<rect x="1220.05" y="700.40" width="3.10" height="8.20" fill="#0000b2"/>
<rect x="1293.75" y="700.40" width="3.10" height="8.20" fill="#0000b2"/>
<rect x="1229.10" y="700.60" width="54.90" height="7.80" fill="#0000b2"/>
<rect x="1320.30" y="700.60" width="10.40" height="7.80" fill="#0000b2"/>
<polyline points="919.9,701.2 923.5,704.5 919.9,707.8" fill="none" stroke="#0000b2" stroke-width="2.1" stroke-linejoin="miter"/>
<polyline points="963.8,701.2 967.4,704.5 963.8,707.8" fill="none" stroke="#0000b2" stroke-width="2.1" stroke-linejoin="miter"/>
<polyline points="1007.7,701.2 1011.3,704.5 1007.7,707.8" fill="none" stroke="#0000b2" stroke-width="2.1" stroke-linejoin="miter"/>
<polyline points="1051.5,701.2 1055.1,704.5 1051.5,707.8" fill="none" stroke="#0000b2" stroke-width="2.1" stroke-linejoin="miter"/>
<polyline points="1095.4,701.2 1099.0,704.5 1095.4,707.8" fill="none" stroke="#0000b2" stroke-width="2.1" stroke-linejoin="miter"/>
<polyline points="1139.2,701.2 1142.8,704.5 1139.2,707.8" fill="none" stroke="#0000b2" stroke-width="2.1" stroke-linejoin="miter"/>
<polyline points="1313.8,701.2 1317.4,704.5 1313.8,707.8" fill="none" stroke="#0000b2" stroke-width="2.1" stroke-linejoin="miter"/>
<polyline points="1270.3,701.2 1273.9,704.5 1270.3,707.8" fill="none" stroke="#ffffff" stroke-width="1.6" stroke-linejoin="miter"/>
<rect x="1167.30" y="717.05" width="61.70" height="1.90" fill="#0000b2"/>
<rect x="1166.85" y="713.90" width="3.10" height="8.20" fill="#0000b2"/>
<rect x="1174.65" y="713.90" width="3.10" height="8.20" fill="#0000b2"/>
<rect x="1181.55" y="713.90" width="3.10" height="8.20" fill="#0000b2"/>
<rect x="1196.25" y="713.90" width="3.10" height="8.20" fill="#0000b2"/>
<rect x="1219.55" y="713.90" width="3.10" height="8.20" fill="#0000b2"/>
<rect x="1228.90" y="714.10" width="33.60" height="7.80" fill="#0000b2"/>
<rect x="1167.30" y="730.45" width="61.70" height="1.90" fill="#0000b2"/>
<rect x="1166.85" y="727.30" width="3.10" height="8.20" fill="#0000b2"/>
<rect x="1174.65" y="727.30" width="3.10" height="8.20" fill="#0000b2"/>
<rect x="1181.55" y="727.30" width="3.10" height="8.20" fill="#0000b2"/>
<rect x="1196.25" y="727.30" width="3.10" height="8.20" fill="#0000b2"/>
<rect x="1202.25" y="727.30" width="3.10" height="8.20" fill="#0000b2"/>
<rect x="1219.55" y="727.30" width="3.10" height="8.20" fill="#0000b2"/>
<rect x="1228.90" y="727.50" width="33.60" height="7.80" fill="#0000b2"/>
<rect x="1167.30" y="743.95" width="61.70" height="1.90" fill="#0000b2"/>
<rect x="1166.85" y="740.80" width="3.10" height="8.20" fill="#0000b2"/>
<rect x="1174.65" y="740.80" width="3.10" height="8.20" fill="#0000b2"/>
<rect x="1181.55" y="740.80" width="3.10" height="8.20" fill="#0000b2"/>
<rect x="1196.25" y="740.80" width="3.10" height="8.20" fill="#0000b2"/>
<rect x="1202.25" y="740.80" width="3.10" height="8.20" fill="#0000b2"/>
<rect x="1219.55" y="740.80" width="3.10" height="8.20" fill="#0000b2"/>
<rect x="1228.90" y="741.00" width="33.60" height="7.80" fill="#0000b2"/>
<rect x="1167.30" y="757.25" width="61.70" height="1.90" fill="#0000b2"/>
<rect x="1166.85" y="754.10" width="3.10" height="8.20" fill="#0000b2"/>
<rect x="1174.65" y="754.10" width="3.10" height="8.20" fill="#0000b2"/>
<rect x="1181.55" y="754.10" width="3.10" height="8.20" fill="#0000b2"/>
<rect x="1196.25" y="754.10" width="3.10" height="8.20" fill="#0000b2"/>
<rect x="1202.25" y="754.10" width="3.10" height="8.20" fill="#0000b2"/>
<rect x="1219.55" y="754.10" width="3.10" height="8.20" fill="#0000b2"/>
<rect x="1228.90" y="754.30" width="33.60" height="7.80" fill="#0000b2"/>
<rect x="1167.30" y="770.45" width="61.70" height="1.90" fill="#0000b2"/>
<rect x="1166.85" y="767.30" width="3.10" height="8.20" fill="#0000b2"/>
<rect x="1174.65" y="767.30" width="3.10" height="8.20" fill="#0000b2"/>
<rect x="1181.55" y="767.30" width="3.10" height="8.20" fill="#0000b2"/>
<rect x="1196.25" y="767.30" width="3.10" height="8.20" fill="#0000b2"/>
<rect x="1202.25" y="767.30" width="3.10" height="8.20" fill="#0000b2"/>
<rect x="1219.55" y="767.30" width="3.10" height="8.20" fill="#0000b2"/>
<rect x="1228.90" y="767.50" width="20.10" height="7.80" fill="#0000b2"/>
<rect x="1167.30" y="783.95" width="61.70" height="1.90" fill="#0000b2"/>
<rect x="1166.85" y="780.80" width="3.10" height="8.20" fill="#0000b2"/>
<rect x="1174.65" y="780.80" width="3.10" height="8.20" fill="#0000b2"/>
<rect x="1181.55" y="780.80" width="3.10" height="8.20" fill="#0000b2"/>
<rect x="1196.25" y="780.80" width="3.10" height="8.20" fill="#0000b2"/>
<rect x="1202.25" y="780.80" width="3.10" height="8.20" fill="#0000b2"/>
<rect x="1219.55" y="780.80" width="3.10" height="8.20" fill="#0000b2"/>
<rect x="1208.35" y="780.80" width="3.10" height="8.20" fill="#0000b2"/>
<rect x="1228.90" y="781.00" width="6.90" height="7.80" fill="#0000b2"/>
<rect x="1167.30" y="797.45" width="63.30" height="1.90" fill="#0000b2"/>
<rect x="1166.85" y="794.30" width="3.10" height="8.20" fill="#0000b2"/>
<rect x="1181.55" y="794.30" width="3.10" height="8.20" fill="#0000b2"/>
<rect x="1196.25" y="794.30" width="3.10" height="8.20" fill="#0000b2"/>
<rect x="1219.55" y="794.30" width="3.10" height="8.20" fill="#0000b2"/>
<rect x="1229.05" y="794.30" width="3.10" height="8.20" fill="#0000b2"/>
<rect x="1167.30" y="810.75" width="15.70" height="1.90" fill="#0000b2"/>
<rect x="1166.85" y="807.60" width="3.10" height="8.20" fill="#0000b2"/>
<rect x="1182.40" y="807.80" width="6.80" height="7.80" fill="#0000b2"/>
<rect x="1176.20" y="824.15" width="26.80" height="1.90" fill="#0000b2"/>
<rect x="1196.25" y="821.00" width="3.10" height="8.20" fill="#0000b2"/>
<rect x="1176.20" y="821.20" width="8.70" height="7.80" fill="#0000b2"/>
<rect x="1202.50" y="821.20" width="5.80" height="7.80" fill="#0000b2"/>
<rect x="1184.30" y="837.45" width="44.70" height="1.90" fill="#0000b2"/>
<rect x="1183.85" y="834.30" width="3.10" height="8.20" fill="#0000b2"/>
<rect x="1196.25" y="834.30" width="3.10" height="8.20" fill="#0000b2"/>
<rect x="1202.25" y="834.30" width="3.10" height="8.20" fill="#0000b2"/>
<rect x="1219.55" y="834.30" width="3.10" height="8.20" fill="#0000b2"/>
<rect x="1228.90" y="834.50" width="14.60" height="7.80" fill="#0000b2"/>
<g transform="translate(24.50,916.50) rotate(-90)"><text x="-1.36" y="0.00" font-size="28" textLength="68.35" lengthAdjust="spacingAndGlyphs">ChIP-</text></g>
<g transform="translate(54.70,904.90) rotate(-90)"><text x="-0.78" y="0.00" font-size="28" textLength="45.17" lengthAdjust="spacingAndGlyphs">seq</text></g>
<rect x="69.70" y="850.70" width="12.90" height="64.50" fill="#e53935"/>
<text x="88.38" y="878.30" font-size="28" textLength="64.73" lengthAdjust="spacingAndGlyphs">T-bet</text>
<text x="88.47" y="910.60" font-size="28" textLength="41.00" lengthAdjust="spacingAndGlyphs">Th1</text>
<polygon points="248.20,913.80 248.20,912.20 249.90,912.20 249.90,894.70 252.80,894.70 252.80,862.20 256.90,862.20 256.90,887.80 258.00,887.80 258.00,912.20 261.00,912.20 261.00,913.80" fill="#c8000a"/>
<polygon points="226.10,913.80 226.10,910.60 230.70,910.60 230.70,913.80" fill="#c8000a"/>
<polygon points="263.30,913.80 263.30,910.60 266.80,910.60 266.80,913.80" fill="#c8000a"/>
<polygon points="296.40,913.80 296.40,904.80 300.50,904.80 300.50,906.30 302.50,906.30 302.50,907.70 306.80,907.70 306.80,910.00 308.30,910.00 308.30,900.20 310.90,900.20 310.90,881.60 315.30,881.60 315.30,896.20 316.70,896.20 316.70,913.80" fill="#c8000a"/>
<polygon points="334.10,913.80 334.10,912.20 338.80,912.20 338.80,913.80" fill="#c8000a"/>
<polygon points="347.50,913.80 347.50,900.50 353.30,900.50 353.30,912.20 358.00,912.20 358.00,913.80" fill="#c8000a"/>
<polygon points="423.00,913.80 423.00,912.20 427.70,912.20 427.70,913.80" fill="#c8000a"/>
<polygon points="429.00,913.80 429.00,910.90 434.90,910.90 434.90,913.80" fill="#c8000a"/>
<polygon points="448.10,913.80 448.10,912.20 453.20,912.20 453.20,910.90 458.30,910.90 458.30,913.80" fill="#c8000a"/>
<polygon points="493.00,913.80 493.00,912.20 497.70,912.20 497.70,913.80" fill="#c8000a"/>
<polygon points="506.50,913.80 506.50,910.90 508.00,910.90 508.00,890.20 509.60,890.20 509.60,877.20 513.90,877.20 513.90,906.40 515.50,906.40 515.50,913.80" fill="#c8000a"/>
<polygon points="525.50,913.80 525.50,911.00 528.00,911.00 528.00,909.30 532.70,909.30 532.70,913.80" fill="#c8000a"/>
<polygon points="570.60,913.80 570.60,909.30 574.90,909.30 574.90,912.20 577.00,912.20 577.00,913.80" fill="#c8000a"/>
<polygon points="600.30,913.80 600.30,912.20 604.30,912.20 604.30,913.80" fill="#c8000a"/>
<polygon points="667.10,913.80 667.10,906.40 672.70,906.40 672.70,913.80" fill="#c8000a"/>
<polygon points="681.40,913.80 681.40,912.20 685.40,912.20 685.40,913.80" fill="#c8000a"/>
<polygon points="720.40,913.80 720.40,910.90 725.20,910.90 725.20,913.80" fill="#c8000a"/>
<polygon points="779.50,913.80 779.50,907.20 785.00,907.20 785.00,913.80" fill="#c8000a"/>
<polygon points="795.80,913.80 795.80,912.10 799.90,912.10 799.90,913.80" fill="#c8000a"/>
<polygon points="805.30,913.80 805.30,912.00 809.40,912.00 809.40,913.80" fill="#c8000a"/>
<polygon points="931.80,913.80 931.80,912.00 935.10,912.00 935.10,913.80" fill="#c8000a"/>
<polygon points="953.60,913.80 953.60,910.50 957.70,910.50 957.70,913.80" fill="#c8000a"/>
<polygon points="983.00,913.80 983.00,912.00 986.80,912.00 986.80,913.80" fill="#c8000a"/>
<polygon points="1129.00,913.80 1129.00,912.00 1131.70,912.00 1131.70,913.80" fill="#c8000a"/>
<polygon points="1145.40,913.80 1145.40,912.00 1148.10,912.00 1148.10,913.80" fill="#c8000a"/>
<polygon points="1297.70,913.80 1297.70,912.00 1301.80,912.00 1301.80,913.80" fill="#c8000a"/>
<rect x="178.00" y="912.90" width="4.00" height="0.90" fill="#c8000a"/>
<rect x="196.00" y="912.90" width="4.00" height="0.90" fill="#c8000a"/>
<rect x="203.00" y="912.90" width="4.00" height="0.90" fill="#c8000a"/>
<rect x="236.00" y="912.90" width="4.00" height="0.90" fill="#c8000a"/>
<rect x="272.00" y="912.90" width="4.00" height="0.90" fill="#c8000a"/>
<rect x="284.00" y="912.90" width="4.00" height="0.90" fill="#c8000a"/>
<rect x="324.00" y="912.90" width="4.00" height="0.90" fill="#c8000a"/>
<rect x="362.00" y="912.90" width="4.00" height="0.90" fill="#c8000a"/>
<rect x="372.00" y="912.90" width="4.00" height="0.90" fill="#c8000a"/>
<rect x="392.00" y="912.90" width="4.00" height="0.90" fill="#c8000a"/>
<rect x="404.00" y="912.90" width="4.00" height="0.90" fill="#c8000a"/>
<rect x="440.00" y="912.90" width="4.00" height="0.90" fill="#c8000a"/>
<rect x="468.00" y="912.90" width="4.00" height="0.90" fill="#c8000a"/>
<rect x="478.00" y="912.90" width="4.00" height="0.90" fill="#c8000a"/>
<rect x="540.00" y="912.90" width="4.00" height="0.90" fill="#c8000a"/>
<rect x="552.00" y="912.90" width="4.00" height="0.90" fill="#c8000a"/>
<rect x="585.00" y="912.90" width="4.00" height="0.90" fill="#c8000a"/>
<rect x="615.00" y="912.90" width="4.00" height="0.90" fill="#c8000a"/>
<rect x="640.00" y="912.90" width="4.00" height="0.90" fill="#c8000a"/>
<rect x="650.00" y="912.90" width="4.00" height="0.90" fill="#c8000a"/>
<rect x="700.00" y="912.90" width="4.00" height="0.90" fill="#c8000a"/>
<rect x="735.00" y="912.90" width="4.00" height="0.90" fill="#c8000a"/>
<rect x="745.00" y="912.90" width="4.00" height="0.90" fill="#c8000a"/>
<rect x="820.00" y="912.90" width="4.00" height="0.90" fill="#c8000a"/>
<rect x="830.00" y="912.90" width="4.00" height="0.90" fill="#c8000a"/>
<rect x="840.00" y="912.90" width="4.00" height="0.90" fill="#c8000a"/>
<rect x="870.00" y="912.90" width="4.00" height="0.90" fill="#c8000a"/>
<rect x="900.00" y="912.90" width="4.00" height="0.90" fill="#c8000a"/>
<rect x="915.00" y="912.90" width="4.00" height="0.90" fill="#c8000a"/>
<rect x="965.00" y="912.90" width="4.00" height="0.90" fill="#c8000a"/>
<rect x="995.00" y="912.90" width="4.00" height="0.90" fill="#c8000a"/>
<rect x="1010.00" y="912.90" width="4.00" height="0.90" fill="#c8000a"/>
<rect x="1040.00" y="912.90" width="4.00" height="0.90" fill="#c8000a"/>
<rect x="1060.00" y="912.90" width="4.00" height="0.90" fill="#c8000a"/>
<rect x="1100.00" y="912.90" width="4.00" height="0.90" fill="#c8000a"/>
<rect x="1115.00" y="912.90" width="4.00" height="0.90" fill="#c8000a"/>
<rect x="1160.00" y="912.90" width="4.00" height="0.90" fill="#c8000a"/>
<rect x="1170.00" y="912.90" width="4.00" height="0.90" fill="#c8000a"/>
<rect x="1200.00" y="912.90" width="4.00" height="0.90" fill="#c8000a"/>
<rect x="1215.00" y="912.90" width="4.00" height="0.90" fill="#c8000a"/>
<rect x="1240.00" y="912.90" width="4.00" height="0.90" fill="#c8000a"/>
<rect x="1260.00" y="912.90" width="4.00" height="0.90" fill="#c8000a"/>
<rect x="1275.00" y="912.90" width="4.00" height="0.90" fill="#c8000a"/>
<rect x="1310.00" y="912.90" width="4.00" height="0.90" fill="#c8000a"/>
<rect x="1330.00" y="912.90" width="4.00" height="0.90" fill="#c8000a"/>
<rect x="169.4" y="851.1" width="1174.1" height="63.9" fill="none" stroke="#000" stroke-width="2.2"/>
<text x="174.24" y="874.40" font-size="24.0" textLength="68.72" lengthAdjust="spacingAndGlyphs">[0–10]</text>
<polygon points="247.90,923.00 256.90,943.60 247.90,939.10 238.90,943.60" fill="#ff2020"/>
<rect x="246.70" y="937.60" width="2.40" height="11.20" fill="#ff2020"/>
<polygon points="306.50,923.00 315.50,943.60 306.50,939.10 297.50,943.60" fill="#44546a"/>
<rect x="305.30" y="937.60" width="2.40" height="11.20" fill="#44546a"/>
<polygon points="347.30,923.00 356.30,943.60 347.30,939.10 338.30,943.60" fill="#44546a"/>
<rect x="346.10" y="937.60" width="2.40" height="11.20" fill="#44546a"/>
<rect x="890.00" y="938.20" width="440.00" height="2.20" fill="#6b6b6b"/>
<rect x="888.80" y="933.00" width="2.60" height="12.70" fill="#6b6b6b"/>
<polyline points="908.8,935.7 912.6,939.3 908.8,942.9" fill="none" stroke="#6b6b6b" stroke-width="2.3" stroke-linejoin="miter"/>
<polyline points="952.6,935.7 956.4,939.3 952.6,942.9" fill="none" stroke="#6b6b6b" stroke-width="2.3" stroke-linejoin="miter"/>
<polyline points="996.4,935.7 1000.2,939.3 996.4,942.9" fill="none" stroke="#6b6b6b" stroke-width="2.3" stroke-linejoin="miter"/>
<polyline points="1040.2,935.7 1044.0,939.3 1040.2,942.9" fill="none" stroke="#6b6b6b" stroke-width="2.3" stroke-linejoin="miter"/>
<polyline points="1084.0,935.7 1087.8,939.3 1084.0,942.9" fill="none" stroke="#6b6b6b" stroke-width="2.3" stroke-linejoin="miter"/>
<polyline points="1127.8,935.7 1131.6,939.3 1127.8,942.9" fill="none" stroke="#6b6b6b" stroke-width="2.3" stroke-linejoin="miter"/>
<polyline points="1171.6,935.7 1175.4,939.3 1171.6,942.9" fill="none" stroke="#6b6b6b" stroke-width="2.3" stroke-linejoin="miter"/>
<polyline points="1319.1,935.7 1322.9,939.3 1319.1,942.9" fill="none" stroke="#6b6b6b" stroke-width="2.3" stroke-linejoin="miter"/>
<rect x="1180.00" y="929.60" width="3.20" height="19.60" fill="#6b6b6b"/>
<rect x="1186.90" y="929.60" width="3.20" height="19.60" fill="#6b6b6b"/>
<rect x="1201.90" y="929.60" width="3.20" height="19.60" fill="#6b6b6b"/>
<rect x="1207.60" y="929.60" width="3.20" height="19.60" fill="#6b6b6b"/>
<rect x="1224.90" y="929.60" width="3.20" height="19.60" fill="#6b6b6b"/>
<rect x="1286.00" y="929.60" width="3.20" height="19.60" fill="#6b6b6b"/>
<rect x="1299.20" y="929.60" width="3.20" height="19.60" fill="#6b6b6b"/>
<rect x="1212.90" y="934.50" width="2.00" height="9.70" fill="#6b6b6b"/>
<rect x="1233.90" y="929.60" width="5.30" height="19.60" fill="#6b6b6b"/>
<rect x="1239.20" y="933.70" width="27.70" height="11.30" fill="#6b6b6b"/>
<rect x="1326.30" y="929.60" width="4.20" height="19.60" fill="#6b6b6b"/>
<text x="1104.56" y="977.50" font-size="27" textLength="76.75" lengthAdjust="spacingAndGlyphs" font-style="italic" fill="#6b6b6b">IL1RL1</text>
<text x="1404.78" y="473.70" font-size="40" textLength="27.15" lengthAdjust="spacingAndGlyphs" font-weight="bold">d</text>
<g transform="translate(1429.5,881.5) rotate(-90)"><text x="-2.28" y="0" font-size="28.5" textLength="372.35" lengthAdjust="spacingAndGlyphs">Expression relative to <tspan font-style="italic">GAPDH</tspan></text></g>
<rect x="1518.60" y="563.70" width="1.40" height="262.80" fill="#222"/>
<rect x="1509.40" y="825.75" width="164.80" height="1.50" fill="#444"/>
<rect x="1509.00" y="563.75" width="10.30" height="1.30" fill="#222"/>
<rect x="1514.00" y="609.63" width="5.30" height="1.10" fill="#333"/>
<rect x="1514.00" y="598.10" width="5.30" height="1.10" fill="#333"/>
<rect x="1514.00" y="589.92" width="5.30" height="1.10" fill="#333"/>
<rect x="1514.00" y="583.57" width="5.30" height="1.10" fill="#333"/>
<rect x="1514.00" y="578.38" width="5.30" height="1.10" fill="#333"/>
<rect x="1514.00" y="574.00" width="5.30" height="1.10" fill="#333"/>
<rect x="1514.00" y="570.20" width="5.30" height="1.10" fill="#333"/>
<rect x="1514.00" y="566.85" width="5.30" height="1.10" fill="#333"/>
<text x="1454.27" y="578.70" font-size="23.8" textLength="25.32" lengthAdjust="spacingAndGlyphs">10</text>
<text x="1480.42" y="566.40" font-size="15" textLength="15.67" lengthAdjust="spacingAndGlyphs">−2</text>
<rect x="1509.00" y="629.25" width="10.30" height="1.30" fill="#222"/>
<rect x="1514.00" y="675.13" width="5.30" height="1.10" fill="#333"/>
<rect x="1514.00" y="663.60" width="5.30" height="1.10" fill="#333"/>
<rect x="1514.00" y="655.42" width="5.30" height="1.10" fill="#333"/>
<rect x="1514.00" y="649.07" width="5.30" height="1.10" fill="#333"/>
<rect x="1514.00" y="643.88" width="5.30" height="1.10" fill="#333"/>
<rect x="1514.00" y="639.50" width="5.30" height="1.10" fill="#333"/>
<rect x="1514.00" y="635.70" width="5.30" height="1.10" fill="#333"/>
<rect x="1514.00" y="632.35" width="5.30" height="1.10" fill="#333"/>
<text x="1454.27" y="642.40" font-size="23.8" textLength="25.32" lengthAdjust="spacingAndGlyphs">10</text>
<text x="1480.43" y="630.10" font-size="15" textLength="15.57" lengthAdjust="spacingAndGlyphs">−3</text>
<rect x="1509.00" y="694.75" width="10.30" height="1.30" fill="#222"/>
<rect x="1514.00" y="740.63" width="5.30" height="1.10" fill="#333"/>
<rect x="1514.00" y="729.10" width="5.30" height="1.10" fill="#333"/>
<rect x="1514.00" y="720.92" width="5.30" height="1.10" fill="#333"/>
<rect x="1514.00" y="714.57" width="5.30" height="1.10" fill="#333"/>
<rect x="1514.00" y="709.38" width="5.30" height="1.10" fill="#333"/>
<rect x="1514.00" y="705.00" width="5.30" height="1.10" fill="#333"/>
<rect x="1514.00" y="701.20" width="5.30" height="1.10" fill="#333"/>
<rect x="1514.00" y="697.85" width="5.30" height="1.10" fill="#333"/>
<text x="1454.27" y="706.10" font-size="23.8" textLength="25.32" lengthAdjust="spacingAndGlyphs">10</text>
<text x="1480.44" y="693.80" font-size="15" textLength="15.36" lengthAdjust="spacingAndGlyphs">−4</text>
<rect x="1509.00" y="760.25" width="10.30" height="1.30" fill="#222"/>
<rect x="1514.00" y="806.13" width="5.30" height="1.10" fill="#333"/>
<rect x="1514.00" y="794.60" width="5.30" height="1.10" fill="#333"/>
<rect x="1514.00" y="786.42" width="5.30" height="1.10" fill="#333"/>
<rect x="1514.00" y="780.07" width="5.30" height="1.10" fill="#333"/>
<rect x="1514.00" y="774.88" width="5.30" height="1.10" fill="#333"/>
<rect x="1514.00" y="770.50" width="5.30" height="1.10" fill="#333"/>
<rect x="1514.00" y="766.70" width="5.30" height="1.10" fill="#333"/>
<rect x="1514.00" y="763.35" width="5.30" height="1.10" fill="#333"/>
<text x="1454.27" y="769.80" font-size="23.8" textLength="25.32" lengthAdjust="spacingAndGlyphs">10</text>
<text x="1480.43" y="757.50" font-size="15" textLength="15.54" lengthAdjust="spacingAndGlyphs">−5</text>
<rect x="1509.00" y="825.75" width="10.30" height="1.30" fill="#222"/>
<text x="1454.27" y="833.50" font-size="23.8" textLength="25.32" lengthAdjust="spacingAndGlyphs">10</text>
<text x="1480.43" y="821.20" font-size="15" textLength="15.57" lengthAdjust="spacingAndGlyphs">−6</text>
<rect x="1535.60" y="708.40" width="29.50" height="118.10" fill="#fff" stroke="#555" stroke-width="1.5"/>
<rect x="1581.90" y="721.20" width="29.60" height="105.30" fill="#fff" stroke="#555" stroke-width="1.5"/>
<line x1="1550.40" y1="693.40" x2="1550.40" y2="736.00" stroke="#333" stroke-width="1.5"/>
<line x1="1542.90" y1="693.40" x2="1557.90" y2="693.40" stroke="#333" stroke-width="1.5"/>
<line x1="1542.90" y1="736.00" x2="1557.90" y2="736.00" stroke="#333" stroke-width="1.5"/>
<line x1="1596.70" y1="716.40" x2="1596.70" y2="731.20" stroke="#333" stroke-width="1.5"/>
<line x1="1589.20" y1="716.40" x2="1604.20" y2="716.40" stroke="#333" stroke-width="1.5"/>
<line x1="1589.20" y1="731.20" x2="1604.20" y2="731.20" stroke="#333" stroke-width="1.5"/>
<circle cx="1550.60" cy="684.80" r="4.9" fill="#b0171f" stroke="#111" stroke-width="1"/>
<circle cx="1540.60" cy="708.40" r="4.9" fill="#b0171f" stroke="#111" stroke-width="1"/>
<circle cx="1545.70" cy="714.10" r="4.9" fill="#b0171f" stroke="#111" stroke-width="1"/>
<circle cx="1553.40" cy="714.70" r="4.9" fill="#b0171f" stroke="#111" stroke-width="1"/>
<circle cx="1560.50" cy="711.80" r="4.9" fill="#b0171f" stroke="#111" stroke-width="1"/>
<circle cx="1550.00" cy="733.10" r="4.9" fill="#b0171f" stroke="#111" stroke-width="1"/>
<circle cx="1591.80" cy="711.30" r="4.9" fill="#e8202a" stroke="#111" stroke-width="1"/>
<circle cx="1601.70" cy="713.20" r="4.9" fill="#e8202a" stroke="#111" stroke-width="1"/>
<circle cx="1596.90" cy="724.00" r="4.9" fill="#e8202a" stroke="#111" stroke-width="1"/>
<circle cx="1606.80" cy="725.50" r="4.9" fill="#e8202a" stroke="#111" stroke-width="1"/>
<circle cx="1586.90" cy="734.00" r="4.9" fill="#e8202a" stroke="#111" stroke-width="1"/>
<text x="1616.28" y="822.00" font-size="18.6" textLength="56.02" lengthAdjust="spacingAndGlyphs">&lt;LOQ</text>
<rect x="1549.10" y="826.50" width="1.40" height="10.00" fill="#444"/>
<text transform="translate(1562.30,859.8) rotate(-45)" text-anchor="end" font-size="23">CTL</text>
<rect x="1595.80" y="826.50" width="1.40" height="10.00" fill="#444"/>
<text transform="translate(1609.00,859.8) rotate(-45)" text-anchor="end" font-size="23">Th1</text>
<rect x="1641.90" y="826.50" width="1.40" height="10.00" fill="#444"/>
<text transform="translate(1655.10,859.8) rotate(-45)" text-anchor="end" font-size="23">Th2</text>
<text x="1545.36" y="550.60" font-size="23.8" textLength="106.49" lengthAdjust="spacingAndGlyphs">Exon AB</text>
<rect x="1765.30" y="563.70" width="1.40" height="262.80" fill="#222"/>
<rect x="1757.20" y="825.75" width="163.90" height="1.50" fill="#444"/>
<rect x="1755.70" y="563.75" width="10.30" height="1.30" fill="#222"/>
<rect x="1760.70" y="609.63" width="5.30" height="1.10" fill="#333"/>
<rect x="1760.70" y="598.10" width="5.30" height="1.10" fill="#333"/>
<rect x="1760.70" y="589.92" width="5.30" height="1.10" fill="#333"/>
<rect x="1760.70" y="583.57" width="5.30" height="1.10" fill="#333"/>
<rect x="1760.70" y="578.38" width="5.30" height="1.10" fill="#333"/>
<rect x="1760.70" y="574.00" width="5.30" height="1.10" fill="#333"/>
<rect x="1760.70" y="570.20" width="5.30" height="1.10" fill="#333"/>
<rect x="1760.70" y="566.85" width="5.30" height="1.10" fill="#333"/>
<text x="1700.97" y="578.70" font-size="23.8" textLength="25.32" lengthAdjust="spacingAndGlyphs">10</text>
<text x="1727.12" y="566.40" font-size="15" textLength="15.67" lengthAdjust="spacingAndGlyphs">−2</text>
<rect x="1755.70" y="629.25" width="10.30" height="1.30" fill="#222"/>
<rect x="1760.70" y="675.13" width="5.30" height="1.10" fill="#333"/>
<rect x="1760.70" y="663.60" width="5.30" height="1.10" fill="#333"/>
<rect x="1760.70" y="655.42" width="5.30" height="1.10" fill="#333"/>
<rect x="1760.70" y="649.07" width="5.30" height="1.10" fill="#333"/>
<rect x="1760.70" y="643.88" width="5.30" height="1.10" fill="#333"/>
<rect x="1760.70" y="639.50" width="5.30" height="1.10" fill="#333"/>
<rect x="1760.70" y="635.70" width="5.30" height="1.10" fill="#333"/>
<rect x="1760.70" y="632.35" width="5.30" height="1.10" fill="#333"/>
<text x="1700.97" y="642.40" font-size="23.8" textLength="25.32" lengthAdjust="spacingAndGlyphs">10</text>
<text x="1727.13" y="630.10" font-size="15" textLength="15.57" lengthAdjust="spacingAndGlyphs">−3</text>
<rect x="1755.70" y="694.75" width="10.30" height="1.30" fill="#222"/>
<rect x="1760.70" y="740.63" width="5.30" height="1.10" fill="#333"/>
<rect x="1760.70" y="729.10" width="5.30" height="1.10" fill="#333"/>
<rect x="1760.70" y="720.92" width="5.30" height="1.10" fill="#333"/>
<rect x="1760.70" y="714.57" width="5.30" height="1.10" fill="#333"/>
<rect x="1760.70" y="709.38" width="5.30" height="1.10" fill="#333"/>
<rect x="1760.70" y="705.00" width="5.30" height="1.10" fill="#333"/>
<rect x="1760.70" y="701.20" width="5.30" height="1.10" fill="#333"/>
<rect x="1760.70" y="697.85" width="5.30" height="1.10" fill="#333"/>
<text x="1700.97" y="706.10" font-size="23.8" textLength="25.32" lengthAdjust="spacingAndGlyphs">10</text>
<text x="1727.14" y="693.80" font-size="15" textLength="15.36" lengthAdjust="spacingAndGlyphs">−4</text>
<rect x="1755.70" y="760.25" width="10.30" height="1.30" fill="#222"/>
<rect x="1760.70" y="806.13" width="5.30" height="1.10" fill="#333"/>
<rect x="1760.70" y="794.60" width="5.30" height="1.10" fill="#333"/>
<rect x="1760.70" y="786.42" width="5.30" height="1.10" fill="#333"/>
<rect x="1760.70" y="780.07" width="5.30" height="1.10" fill="#333"/>
<rect x="1760.70" y="774.88" width="5.30" height="1.10" fill="#333"/>
<rect x="1760.70" y="770.50" width="5.30" height="1.10" fill="#333"/>
<rect x="1760.70" y="766.70" width="5.30" height="1.10" fill="#333"/>
<rect x="1760.70" y="763.35" width="5.30" height="1.10" fill="#333"/>
<text x="1700.97" y="769.80" font-size="23.8" textLength="25.32" lengthAdjust="spacingAndGlyphs">10</text>
<text x="1727.13" y="757.50" font-size="15" textLength="15.54" lengthAdjust="spacingAndGlyphs">−5</text>
<rect x="1755.70" y="825.75" width="10.30" height="1.30" fill="#222"/>
<text x="1700.97" y="833.50" font-size="23.8" textLength="25.32" lengthAdjust="spacingAndGlyphs">10</text>
<text x="1727.13" y="821.20" font-size="15" textLength="15.57" lengthAdjust="spacingAndGlyphs">−6</text>
<line x1="1797.30" y1="805.30" x2="1797.30" y2="826.50" stroke="#222" stroke-width="1.5"/>
<line x1="1792.90" y1="805.30" x2="1805.10" y2="805.30" stroke="#222" stroke-width="1.5"/>
<rect x="1829.40" y="796.10" width="29.20" height="30.40" fill="#fff" stroke="#555" stroke-width="1.5"/>
<line x1="1843.50" y1="774.10" x2="1843.50" y2="826.50" stroke="#333" stroke-width="1.5"/>
<line x1="1836.00" y1="774.10" x2="1851.80" y2="774.10" stroke="#333" stroke-width="1.5"/>
<rect x="1875.70" y="638.20" width="29.70" height="188.30" fill="#fff" stroke="#555" stroke-width="1.5"/>
<line x1="1890.30" y1="625.10" x2="1890.30" y2="660.40" stroke="#333" stroke-width="1.5"/>
<line x1="1882.80" y1="625.10" x2="1897.80" y2="625.10" stroke="#333" stroke-width="1.5"/>
<line x1="1882.80" y1="660.40" x2="1897.80" y2="660.40" stroke="#333" stroke-width="1.5"/>
<circle cx="1787.30" cy="802.60" r="4.9" fill="#b0171f" stroke="#111" stroke-width="1"/>
<circle cx="1807.50" cy="800.40" r="4.9" fill="#b0171f" stroke="#111" stroke-width="1"/>
<circle cx="1843.50" cy="765.10" r="4.9" fill="#e8202a" stroke="#111" stroke-width="1"/>
<circle cx="1843.50" cy="798.50" r="4.9" fill="#e8202a" stroke="#111" stroke-width="1"/>
<circle cx="1833.80" cy="816.80" r="4.9" fill="#e8202a" stroke="#111" stroke-width="1"/>
<circle cx="1854.30" cy="813.10" r="4.9" fill="#e8202a" stroke="#111" stroke-width="1"/>
<circle cx="1880.10" cy="630.90" r="4.9" fill="#3d3d3d" stroke="#111" stroke-width="1"/>
<circle cx="1900.50" cy="625.60" r="4.9" fill="#3d3d3d" stroke="#111" stroke-width="1"/>
<circle cx="1900.50" cy="640.20" r="4.9" fill="#3d3d3d" stroke="#111" stroke-width="1"/>
<circle cx="1890.30" cy="676.70" r="4.9" fill="#3d3d3d" stroke="#111" stroke-width="1"/>
<rect x="1796.60" y="826.50" width="1.40" height="10.00" fill="#444"/>
<text transform="translate(1809.80,859.8) rotate(-45)" text-anchor="end" font-size="23">CTL</text>
<rect x="1843.10" y="826.50" width="1.40" height="10.00" fill="#444"/>
<text transform="translate(1856.30,859.8) rotate(-45)" text-anchor="end" font-size="23">Th1</text>
<rect x="1889.30" y="826.50" width="1.40" height="10.00" fill="#444"/>
<text transform="translate(1902.50,859.8) rotate(-45)" text-anchor="end" font-size="23">Th2</text>
<text x="1799.41" y="550.10" font-size="23.8" textLength="93.59" lengthAdjust="spacingAndGlyphs">Exon 1a</text>
<rect x="2006.20" y="563.70" width="1.40" height="262.80" fill="#222"/>
<rect x="1997.20" y="825.75" width="164.10" height="1.50" fill="#444"/>
<rect x="1996.60" y="563.75" width="10.30" height="1.30" fill="#222"/>
<rect x="2001.60" y="609.63" width="5.30" height="1.10" fill="#333"/>
<rect x="2001.60" y="598.10" width="5.30" height="1.10" fill="#333"/>
<rect x="2001.60" y="589.92" width="5.30" height="1.10" fill="#333"/>
<rect x="2001.60" y="583.57" width="5.30" height="1.10" fill="#333"/>
<rect x="2001.60" y="578.38" width="5.30" height="1.10" fill="#333"/>
<rect x="2001.60" y="574.00" width="5.30" height="1.10" fill="#333"/>
<rect x="2001.60" y="570.20" width="5.30" height="1.10" fill="#333"/>
<rect x="2001.60" y="566.85" width="5.30" height="1.10" fill="#333"/>
<text x="1941.87" y="578.70" font-size="23.8" textLength="25.32" lengthAdjust="spacingAndGlyphs">10</text>
<text x="1968.02" y="566.40" font-size="15" textLength="15.67" lengthAdjust="spacingAndGlyphs">−2</text>
<rect x="1996.60" y="629.25" width="10.30" height="1.30" fill="#222"/>
<rect x="2001.60" y="675.13" width="5.30" height="1.10" fill="#333"/>
<rect x="2001.60" y="663.60" width="5.30" height="1.10" fill="#333"/>
<rect x="2001.60" y="655.42" width="5.30" height="1.10" fill="#333"/>
<rect x="2001.60" y="649.07" width="5.30" height="1.10" fill="#333"/>
<rect x="2001.60" y="643.88" width="5.30" height="1.10" fill="#333"/>
<rect x="2001.60" y="639.50" width="5.30" height="1.10" fill="#333"/>
<rect x="2001.60" y="635.70" width="5.30" height="1.10" fill="#333"/>
<rect x="2001.60" y="632.35" width="5.30" height="1.10" fill="#333"/>
<text x="1941.87" y="642.40" font-size="23.8" textLength="25.32" lengthAdjust="spacingAndGlyphs">10</text>
<text x="1968.03" y="630.10" font-size="15" textLength="15.57" lengthAdjust="spacingAndGlyphs">−3</text>
<rect x="1996.60" y="694.75" width="10.30" height="1.30" fill="#222"/>
<rect x="2001.60" y="740.63" width="5.30" height="1.10" fill="#333"/>
<rect x="2001.60" y="729.10" width="5.30" height="1.10" fill="#333"/>
<rect x="2001.60" y="720.92" width="5.30" height="1.10" fill="#333"/>
<rect x="2001.60" y="714.57" width="5.30" height="1.10" fill="#333"/>
<rect x="2001.60" y="709.38" width="5.30" height="1.10" fill="#333"/>
<rect x="2001.60" y="705.00" width="5.30" height="1.10" fill="#333"/>
<rect x="2001.60" y="701.20" width="5.30" height="1.10" fill="#333"/>
<rect x="2001.60" y="697.85" width="5.30" height="1.10" fill="#333"/>
<text x="1941.87" y="706.10" font-size="23.8" textLength="25.32" lengthAdjust="spacingAndGlyphs">10</text>
<text x="1968.04" y="693.80" font-size="15" textLength="15.36" lengthAdjust="spacingAndGlyphs">−4</text>
<rect x="1996.60" y="760.25" width="10.30" height="1.30" fill="#222"/>
<rect x="2001.60" y="806.13" width="5.30" height="1.10" fill="#333"/>
<rect x="2001.60" y="794.60" width="5.30" height="1.10" fill="#333"/>
<rect x="2001.60" y="786.42" width="5.30" height="1.10" fill="#333"/>
<rect x="2001.60" y="780.07" width="5.30" height="1.10" fill="#333"/>
<rect x="2001.60" y="774.88" width="5.30" height="1.10" fill="#333"/>
<rect x="2001.60" y="770.50" width="5.30" height="1.10" fill="#333"/>
<rect x="2001.60" y="766.70" width="5.30" height="1.10" fill="#333"/>
<rect x="2001.60" y="763.35" width="5.30" height="1.10" fill="#333"/>
<text x="1941.87" y="769.80" font-size="23.8" textLength="25.32" lengthAdjust="spacingAndGlyphs">10</text>
<text x="1968.03" y="757.50" font-size="15" textLength="15.54" lengthAdjust="spacingAndGlyphs">−5</text>
<rect x="1996.60" y="825.75" width="10.30" height="1.30" fill="#222"/>
<text x="1941.87" y="833.50" font-size="23.8" textLength="25.32" lengthAdjust="spacingAndGlyphs">10</text>
<text x="1968.03" y="821.20" font-size="15" textLength="15.57" lengthAdjust="spacingAndGlyphs">−6</text>
<rect x="2023.50" y="662.10" width="29.70" height="164.40" fill="#fff" stroke="#555" stroke-width="1.5"/>
<rect x="2069.80" y="640.50" width="29.70" height="186.00" fill="#fff" stroke="#555" stroke-width="1.5"/>
<rect x="2116.10" y="695.70" width="29.80" height="130.80" fill="#fff" stroke="#555" stroke-width="1.5"/>
<line x1="2038.30" y1="648.60" x2="2038.30" y2="684.90" stroke="#333" stroke-width="1.5"/>
<line x1="2030.80" y1="648.60" x2="2045.80" y2="648.60" stroke="#333" stroke-width="1.5"/>
<line x1="2030.80" y1="684.90" x2="2045.80" y2="684.90" stroke="#333" stroke-width="1.5"/>
<line x1="2084.70" y1="627.00" x2="2084.70" y2="662.10" stroke="#333" stroke-width="1.5"/>
<line x1="2077.20" y1="627.00" x2="2092.20" y2="627.00" stroke="#333" stroke-width="1.5"/>
<line x1="2077.20" y1="662.10" x2="2092.20" y2="662.10" stroke="#333" stroke-width="1.5"/>
<line x1="2131.00" y1="684.10" x2="2131.00" y2="712.30" stroke="#333" stroke-width="1.5"/>
<line x1="2123.50" y1="684.10" x2="2138.50" y2="684.10" stroke="#333" stroke-width="1.5"/>
<line x1="2123.50" y1="712.30" x2="2138.50" y2="712.30" stroke="#333" stroke-width="1.5"/>
<circle cx="2038.50" cy="642.80" r="4.9" fill="#b0171f" stroke="#111" stroke-width="1"/>
<circle cx="2028.50" cy="657.10" r="4.9" fill="#b0171f" stroke="#111" stroke-width="1"/>
<circle cx="2048.60" cy="656.30" r="4.9" fill="#b0171f" stroke="#111" stroke-width="1"/>
<circle cx="2028.50" cy="671.40" r="4.9" fill="#b0171f" stroke="#111" stroke-width="1"/>
<circle cx="2028.50" cy="683.30" r="4.9" fill="#b0171f" stroke="#111" stroke-width="1"/>
<circle cx="2048.60" cy="679.50" r="4.9" fill="#b0171f" stroke="#111" stroke-width="1"/>
<circle cx="2084.90" cy="622.30" r="4.9" fill="#e8202a" stroke="#111" stroke-width="1"/>
<circle cx="2074.80" cy="642.80" r="4.9" fill="#e8202a" stroke="#111" stroke-width="1"/>
<circle cx="2094.90" cy="635.10" r="4.9" fill="#e8202a" stroke="#111" stroke-width="1"/>
<circle cx="2074.80" cy="658.20" r="4.9" fill="#e8202a" stroke="#111" stroke-width="1"/>
<circle cx="2094.90" cy="655.90" r="4.9" fill="#e8202a" stroke="#111" stroke-width="1"/>
<circle cx="2130.80" cy="680.20" r="4.9" fill="#3d3d3d" stroke="#111" stroke-width="1"/>
<circle cx="2120.80" cy="694.50" r="4.9" fill="#3d3d3d" stroke="#111" stroke-width="1"/>
<circle cx="2140.80" cy="700.30" r="4.9" fill="#3d3d3d" stroke="#111" stroke-width="1"/>
<circle cx="2120.80" cy="711.90" r="4.9" fill="#3d3d3d" stroke="#111" stroke-width="1"/>
<rect x="2037.10" y="826.50" width="1.40" height="10.00" fill="#444"/>
<text transform="translate(2050.30,859.8) rotate(-45)" text-anchor="end" font-size="23">CTL</text>
<rect x="2083.40" y="826.50" width="1.40" height="10.00" fill="#444"/>
<text transform="translate(2096.60,859.8) rotate(-45)" text-anchor="end" font-size="23">Th1</text>
<rect x="2129.70" y="826.50" width="1.40" height="10.00" fill="#444"/>
<text transform="translate(2142.90,859.8) rotate(-45)" text-anchor="end" font-size="23">Th2</text>
<text x="2046.45" y="550.10" font-size="23.8" textLength="77.06" lengthAdjust="spacingAndGlyphs" font-style="italic">IL1RL1</text>
<rect x="1510.40" y="900.40" width="658.60" height="2.00" fill="#000"/>
<text x="1749.07" y="934.00" font-size="26" textLength="181.86" lengthAdjust="spacingAndGlyphs">Human T cells</text>
</svg>
</body></html>
